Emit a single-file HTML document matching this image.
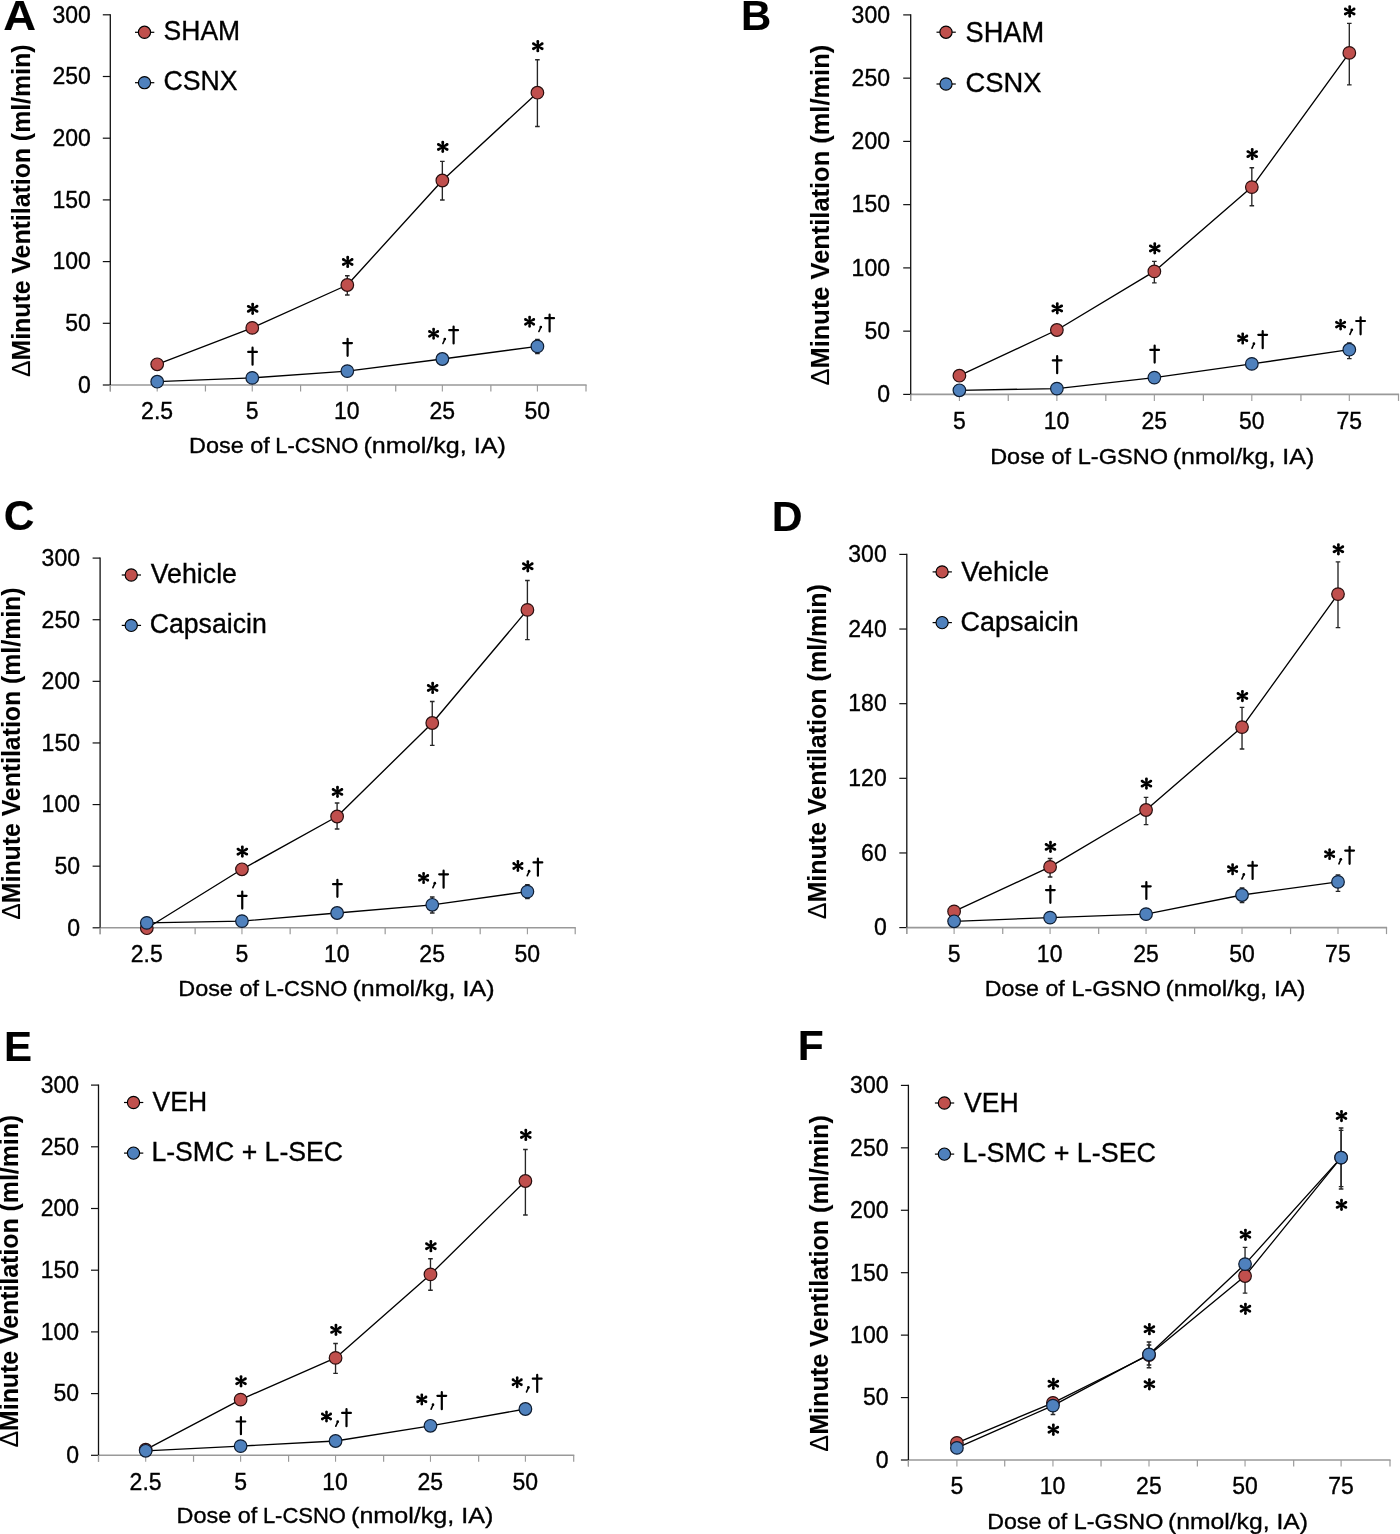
<!DOCTYPE html>
<html><head><meta charset="utf-8"><title>Figure</title>
<style>html,body{margin:0;padding:0;background:#fff;overflow:hidden;width:1400px;height:1534px;}svg{display:block;will-change:transform;}text{stroke:#000;stroke-width:0.35px;}text.b{stroke-width:0.1px;}</style>
</head><body>
<svg width="1400" height="1534" viewBox="0 0 1400 1534">
<defs><filter id="soft" x="-50%" y="-50%" width="200%" height="200%"><feGaussianBlur stdDeviation="0.45"/></filter></defs>
<rect width="1400" height="1534" fill="#fff"/>
<text x="3.17" y="29.70" font-family="'Liberation Sans', sans-serif" font-weight="bold" class="b" font-size="42.15" textLength="32.83" lengthAdjust="spacingAndGlyphs">A</text>
<line x1="102.80" y1="385.00" x2="110.30" y2="385.00" stroke="#111" stroke-width="1.2"/>
<text x="78.10" y="392.80" font-family="'Liberation Sans', sans-serif" font-size="23.60" textLength="12.80" lengthAdjust="spacingAndGlyphs">0</text>
<line x1="102.80" y1="323.30" x2="110.30" y2="323.30" stroke="#111" stroke-width="1.2"/>
<text x="65.30" y="331.10" font-family="'Liberation Sans', sans-serif" font-size="23.60" textLength="25.59" lengthAdjust="spacingAndGlyphs">50</text>
<line x1="102.80" y1="261.60" x2="110.30" y2="261.60" stroke="#111" stroke-width="1.2"/>
<text x="52.51" y="269.40" font-family="'Liberation Sans', sans-serif" font-size="23.60" textLength="38.39" lengthAdjust="spacingAndGlyphs">100</text>
<line x1="102.80" y1="199.90" x2="110.30" y2="199.90" stroke="#111" stroke-width="1.2"/>
<text x="52.51" y="207.70" font-family="'Liberation Sans', sans-serif" font-size="23.60" textLength="38.39" lengthAdjust="spacingAndGlyphs">150</text>
<line x1="102.80" y1="138.20" x2="110.30" y2="138.20" stroke="#111" stroke-width="1.2"/>
<text x="52.51" y="146.00" font-family="'Liberation Sans', sans-serif" font-size="23.60" textLength="38.39" lengthAdjust="spacingAndGlyphs">200</text>
<line x1="102.80" y1="76.50" x2="110.30" y2="76.50" stroke="#111" stroke-width="1.2"/>
<text x="52.51" y="84.30" font-family="'Liberation Sans', sans-serif" font-size="23.60" textLength="38.39" lengthAdjust="spacingAndGlyphs">250</text>
<line x1="102.80" y1="14.80" x2="110.30" y2="14.80" stroke="#111" stroke-width="1.2"/>
<text x="52.51" y="22.60" font-family="'Liberation Sans', sans-serif" font-size="23.60" textLength="38.39" lengthAdjust="spacingAndGlyphs">300</text>
<line x1="110.30" y1="385.00" x2="586.60" y2="385.00" stroke="#999999" stroke-width="1.6"/>
<line x1="110.30" y1="385.00" x2="110.30" y2="391.50" stroke="#999999" stroke-width="1.2"/>
<line x1="205.44" y1="385.00" x2="205.44" y2="391.50" stroke="#999999" stroke-width="1.2"/>
<line x1="300.58" y1="385.00" x2="300.58" y2="391.50" stroke="#999999" stroke-width="1.2"/>
<line x1="395.72" y1="385.00" x2="395.72" y2="391.50" stroke="#999999" stroke-width="1.2"/>
<line x1="490.86" y1="385.00" x2="490.86" y2="391.50" stroke="#999999" stroke-width="1.2"/>
<line x1="586.00" y1="385.00" x2="586.00" y2="391.50" stroke="#999999" stroke-width="1.2"/>
<line x1="157.20" y1="385.00" x2="157.20" y2="391.50" stroke="#9a9a9a" stroke-width="1.1"/>
<line x1="252.25" y1="385.00" x2="252.25" y2="391.50" stroke="#9a9a9a" stroke-width="1.1"/>
<line x1="347.30" y1="385.00" x2="347.30" y2="391.50" stroke="#9a9a9a" stroke-width="1.1"/>
<line x1="442.35" y1="385.00" x2="442.35" y2="391.50" stroke="#9a9a9a" stroke-width="1.1"/>
<line x1="537.40" y1="385.00" x2="537.40" y2="391.50" stroke="#9a9a9a" stroke-width="1.1"/>
<line x1="110.30" y1="14.20" x2="110.30" y2="385.00" stroke="#111" stroke-width="1.3"/>
<line x1="110.30" y1="385.00" x2="110.30" y2="391.50" stroke="#999999" stroke-width="1.2"/>
<text x="141.11" y="419.40" font-family="'Liberation Sans', sans-serif" font-size="23.60" textLength="31.99" lengthAdjust="spacingAndGlyphs">2.5</text>
<text x="245.87" y="419.40" font-family="'Liberation Sans', sans-serif" font-size="23.60" textLength="12.80" lengthAdjust="spacingAndGlyphs">5</text>
<text x="334.08" y="419.40" font-family="'Liberation Sans', sans-serif" font-size="23.60" textLength="25.59" lengthAdjust="spacingAndGlyphs">10</text>
<text x="429.46" y="419.40" font-family="'Liberation Sans', sans-serif" font-size="23.60" textLength="25.59" lengthAdjust="spacingAndGlyphs">25</text>
<text x="524.59" y="419.40" font-family="'Liberation Sans', sans-serif" font-size="23.60" textLength="25.59" lengthAdjust="spacingAndGlyphs">50</text>
<text x="188.98" y="452.80" font-family="'Liberation Sans', sans-serif" font-size="22.67" textLength="80.78" lengthAdjust="spacingAndGlyphs">Dose of</text>
<text x="275.29" y="452.80" font-family="'Liberation Sans', sans-serif" font-size="22.67" textLength="83.06" lengthAdjust="spacingAndGlyphs">L-CSNO</text>
<text x="363.44" y="452.80" font-family="'Liberation Sans', sans-serif" font-size="22.67" textLength="142.31" lengthAdjust="spacingAndGlyphs">(nmol/kg, IA)</text>
<text class="b" transform="translate(30.30,376.30) rotate(-90)" x="-0.74" y="0" font-family="'Liberation Sans', sans-serif" font-weight="bold" font-size="26.16" textLength="332.47" lengthAdjust="spacingAndGlyphs"><tspan font-weight="normal">&#916;</tspan>Minute Ventilation (ml/min)</text>
<line x1="135.00" y1="32.30" x2="154.30" y2="32.30" stroke="#000" stroke-width="1.2"/>
<circle cx="144.50" cy="32.30" r="6.1" fill="#C0504D" stroke="#000" stroke-width="1.15"/>
<text x="163.60" y="40.40" font-family="'Liberation Sans', sans-serif" font-size="27.91" textLength="76.58" lengthAdjust="spacingAndGlyphs">SHAM</text>
<line x1="135.00" y1="82.70" x2="154.30" y2="82.70" stroke="#000" stroke-width="1.2"/>
<circle cx="144.50" cy="82.70" r="6.1" fill="#4F81BD" stroke="#000" stroke-width="1.15"/>
<text x="163.45" y="90.40" font-family="'Liberation Sans', sans-serif" font-size="27.50" textLength="74.11" lengthAdjust="spacingAndGlyphs">CSNX</text>
<path d="M157.20,364.30 L252.25,327.90 L347.30,285.00 L442.35,180.50 L537.40,92.70" stroke="#000" stroke-width="1.35" fill="none" stroke-linejoin="round"/>
<path d="M157.20,381.70 L252.25,377.90 L347.30,371.10 L442.35,359.00 L537.40,346.40" stroke="#000" stroke-width="1.35" fill="none" stroke-linejoin="round"/>
<path d="M347.30,275.70 L347.30,295.00 M345.00,275.70 L349.60,275.70 M345.00,295.00 L349.60,295.00" stroke="#262626" stroke-width="1.35" fill="none"/>
<path d="M442.35,161.40 L442.35,200.00 M440.05,161.40 L444.65,161.40 M440.05,200.00 L444.65,200.00" stroke="#262626" stroke-width="1.35" fill="none"/>
<path d="M537.40,59.70 L537.40,126.50 M535.10,59.70 L539.70,59.70 M535.10,126.50 L539.70,126.50" stroke="#262626" stroke-width="1.35" fill="none"/>
<path d="M537.40,339.40 L537.40,353.50 M535.10,339.40 L539.70,339.40 M535.10,353.50 L539.70,353.50" stroke="#262626" stroke-width="1.35" fill="none"/>
<circle cx="157.20" cy="364.30" r="6.30" fill="#C0504D" stroke="#2a1010" stroke-width="1.2" filter="url(#soft)"/>
<circle cx="252.25" cy="327.90" r="6.30" fill="#C0504D" stroke="#2a1010" stroke-width="1.2" filter="url(#soft)"/>
<circle cx="347.30" cy="285.00" r="6.30" fill="#C0504D" stroke="#2a1010" stroke-width="1.2" filter="url(#soft)"/>
<circle cx="442.35" cy="180.50" r="6.30" fill="#C0504D" stroke="#2a1010" stroke-width="1.2" filter="url(#soft)"/>
<circle cx="537.40" cy="92.70" r="6.30" fill="#C0504D" stroke="#2a1010" stroke-width="1.2" filter="url(#soft)"/>
<circle cx="157.20" cy="381.70" r="6.30" fill="#4F81BD" stroke="#0f1c30" stroke-width="1.2" filter="url(#soft)"/>
<circle cx="252.25" cy="377.90" r="6.30" fill="#4F81BD" stroke="#0f1c30" stroke-width="1.2" filter="url(#soft)"/>
<circle cx="347.30" cy="371.10" r="6.30" fill="#4F81BD" stroke="#0f1c30" stroke-width="1.2" filter="url(#soft)"/>
<circle cx="442.35" cy="359.00" r="6.30" fill="#4F81BD" stroke="#0f1c30" stroke-width="1.2" filter="url(#soft)"/>
<circle cx="537.40" cy="346.40" r="6.30" fill="#4F81BD" stroke="#0f1c30" stroke-width="1.2" filter="url(#soft)"/>
<path d="M253.50,308.85 L254.10,304.15 L251.20,304.15 L251.80,308.85 Z M251.20,304.15 a1.45,1.45 0 1,0 2.90,0 a1.45,1.45 0 1,0 -2.90,0 Z M251.80,308.85 L251.20,313.55 L254.10,313.55 L253.50,308.85 Z M251.20,313.55 a1.45,1.45 0 1,0 2.90,0 a1.45,1.45 0 1,0 -2.90,0 Z M253.08,309.59 L257.75,307.58 L256.30,305.07 L252.22,308.11 Z M255.57,306.33 a1.45,1.45 0 1,0 2.90,0 a1.45,1.45 0 1,0 -2.90,0 Z M253.08,308.11 L249.00,305.07 L247.55,307.58 L252.22,309.59 Z M246.83,306.33 a1.45,1.45 0 1,0 2.90,0 a1.45,1.45 0 1,0 -2.90,0 Z M252.22,308.11 L247.55,310.12 L249.00,312.63 L253.08,309.59 Z M246.83,311.38 a1.45,1.45 0 1,0 2.90,0 a1.45,1.45 0 1,0 -2.90,0 Z M252.22,309.59 L256.30,312.63 L257.75,310.12 L253.08,308.11 Z M255.57,311.38 a1.45,1.45 0 1,0 2.90,0 a1.45,1.45 0 1,0 -2.90,0 Z " fill="#000"/>
<path d="M348.55,261.95 L349.15,257.25 L346.25,257.25 L346.85,261.95 Z M346.25,257.25 a1.45,1.45 0 1,0 2.90,0 a1.45,1.45 0 1,0 -2.90,0 Z M346.85,261.95 L346.25,266.65 L349.15,266.65 L348.55,261.95 Z M346.25,266.65 a1.45,1.45 0 1,0 2.90,0 a1.45,1.45 0 1,0 -2.90,0 Z M348.12,262.69 L352.80,260.68 L351.35,258.17 L347.27,261.21 Z M350.62,259.43 a1.45,1.45 0 1,0 2.90,0 a1.45,1.45 0 1,0 -2.90,0 Z M348.12,261.21 L344.05,258.17 L342.60,260.68 L347.27,262.69 Z M341.88,259.43 a1.45,1.45 0 1,0 2.90,0 a1.45,1.45 0 1,0 -2.90,0 Z M347.27,261.21 L342.60,263.22 L344.05,265.73 L348.12,262.69 Z M341.88,264.47 a1.45,1.45 0 1,0 2.90,0 a1.45,1.45 0 1,0 -2.90,0 Z M347.27,262.69 L351.35,265.73 L352.80,263.22 L348.12,261.21 Z M350.62,264.47 a1.45,1.45 0 1,0 2.90,0 a1.45,1.45 0 1,0 -2.90,0 Z " fill="#000"/>
<path d="M443.60,146.90 L444.20,142.20 L441.30,142.20 L441.90,146.90 Z M441.30,142.20 a1.45,1.45 0 1,0 2.90,0 a1.45,1.45 0 1,0 -2.90,0 Z M441.90,146.90 L441.30,151.60 L444.20,151.60 L443.60,146.90 Z M441.30,151.60 a1.45,1.45 0 1,0 2.90,0 a1.45,1.45 0 1,0 -2.90,0 Z M443.17,147.64 L447.85,145.63 L446.40,143.12 L442.32,146.16 Z M445.67,144.38 a1.45,1.45 0 1,0 2.90,0 a1.45,1.45 0 1,0 -2.90,0 Z M443.17,146.16 L439.10,143.12 L437.65,145.63 L442.32,147.64 Z M436.93,144.38 a1.45,1.45 0 1,0 2.90,0 a1.45,1.45 0 1,0 -2.90,0 Z M442.32,146.16 L437.65,148.17 L439.10,150.68 L443.17,147.64 Z M436.93,149.43 a1.45,1.45 0 1,0 2.90,0 a1.45,1.45 0 1,0 -2.90,0 Z M442.32,147.64 L446.40,150.68 L447.85,148.17 L443.17,146.16 Z M445.67,149.43 a1.45,1.45 0 1,0 2.90,0 a1.45,1.45 0 1,0 -2.90,0 Z " fill="#000"/>
<path d="M538.65,46.20 L539.25,41.50 L536.35,41.50 L536.95,46.20 Z M536.35,41.50 a1.45,1.45 0 1,0 2.90,0 a1.45,1.45 0 1,0 -2.90,0 Z M536.95,46.20 L536.35,50.90 L539.25,50.90 L538.65,46.20 Z M536.35,50.90 a1.45,1.45 0 1,0 2.90,0 a1.45,1.45 0 1,0 -2.90,0 Z M538.22,46.94 L542.90,44.93 L541.45,42.42 L537.38,45.46 Z M540.72,43.67 a1.45,1.45 0 1,0 2.90,0 a1.45,1.45 0 1,0 -2.90,0 Z M538.22,45.46 L534.15,42.42 L532.70,44.93 L537.38,46.94 Z M531.98,43.67 a1.45,1.45 0 1,0 2.90,0 a1.45,1.45 0 1,0 -2.90,0 Z M537.38,45.46 L532.70,47.47 L534.15,49.98 L538.22,46.94 Z M531.98,48.72 a1.45,1.45 0 1,0 2.90,0 a1.45,1.45 0 1,0 -2.90,0 Z M537.38,46.94 L541.45,49.98 L542.90,47.47 L538.22,45.46 Z M540.72,48.72 a1.45,1.45 0 1,0 2.90,0 a1.45,1.45 0 1,0 -2.90,0 Z " fill="#000"/>
<path d="M252.55,347.65 L252.55,364.65 M248.20,351.95 L256.90,351.95" stroke="#000" stroke-width="2.20" stroke-linecap="round" fill="none"/>
<path d="M347.60,338.80 L347.60,355.80 M343.25,343.10 L351.95,343.10" stroke="#000" stroke-width="2.20" stroke-linecap="round" fill="none"/>
<path d="M434.41,333.80 L434.98,329.33 L432.22,329.33 L432.79,333.80 Z M432.22,329.33 a1.38,1.38 0 1,0 2.75,0 a1.38,1.38 0 1,0 -2.75,0 Z M432.79,333.80 L432.22,338.26 L434.98,338.26 L434.41,333.80 Z M432.22,338.26 a1.38,1.38 0 1,0 2.75,0 a1.38,1.38 0 1,0 -2.75,0 Z M434.00,334.50 L438.44,332.59 L437.07,330.21 L433.20,333.10 Z M436.38,331.40 a1.38,1.38 0 1,0 2.75,0 a1.38,1.38 0 1,0 -2.75,0 Z M434.00,333.10 L430.13,330.21 L428.76,332.59 L433.20,334.50 Z M428.07,331.40 a1.38,1.38 0 1,0 2.75,0 a1.38,1.38 0 1,0 -2.75,0 Z M433.20,333.10 L428.76,335.01 L430.13,337.39 L434.00,334.50 Z M428.07,336.20 a1.38,1.38 0 1,0 2.75,0 a1.38,1.38 0 1,0 -2.75,0 Z M433.20,334.50 L437.07,337.39 L438.44,335.01 L434.00,333.10 Z M436.38,336.20 a1.38,1.38 0 1,0 2.75,0 a1.38,1.38 0 1,0 -2.75,0 Z " fill="#000"/>
<circle cx="444.80" cy="339.00" r="1.35" fill="#000"/>
<path d="M444.90,339.10 L442.90,343.50" stroke="#000" stroke-width="1.60" stroke-linecap="round" fill="none"/>
<path d="M453.60,326.50 L453.60,343.50 M449.20,330.20 L458.00,330.20" stroke="#000" stroke-width="2.20" stroke-linecap="round" fill="none"/>
<path d="M530.41,321.80 L530.98,317.33 L528.22,317.33 L528.79,321.80 Z M528.22,317.33 a1.38,1.38 0 1,0 2.75,0 a1.38,1.38 0 1,0 -2.75,0 Z M528.79,321.80 L528.22,326.26 L530.98,326.26 L530.41,321.80 Z M528.22,326.26 a1.38,1.38 0 1,0 2.75,0 a1.38,1.38 0 1,0 -2.75,0 Z M530.00,322.50 L534.44,320.59 L533.07,318.21 L529.20,321.10 Z M532.38,319.40 a1.38,1.38 0 1,0 2.75,0 a1.38,1.38 0 1,0 -2.75,0 Z M530.00,321.10 L526.13,318.21 L524.76,320.59 L529.20,322.50 Z M524.07,319.40 a1.38,1.38 0 1,0 2.75,0 a1.38,1.38 0 1,0 -2.75,0 Z M529.20,321.10 L524.76,323.01 L526.13,325.39 L530.00,322.50 Z M524.07,324.20 a1.38,1.38 0 1,0 2.75,0 a1.38,1.38 0 1,0 -2.75,0 Z M529.20,322.50 L533.07,325.39 L534.44,323.01 L530.00,321.10 Z M532.38,324.20 a1.38,1.38 0 1,0 2.75,0 a1.38,1.38 0 1,0 -2.75,0 Z " fill="#000"/>
<circle cx="540.80" cy="327.00" r="1.35" fill="#000"/>
<path d="M540.90,327.10 L538.90,331.50" stroke="#000" stroke-width="1.60" stroke-linecap="round" fill="none"/>
<path d="M549.60,314.50 L549.60,331.50 M545.20,318.20 L554.00,318.20" stroke="#000" stroke-width="2.20" stroke-linecap="round" fill="none"/>
<text x="741.00" y="29.80" font-family="'Liberation Sans', sans-serif" font-weight="bold" class="b" font-size="42.15" textLength="30.20" lengthAdjust="spacingAndGlyphs">B</text>
<line x1="903.20" y1="394.40" x2="910.70" y2="394.40" stroke="#111" stroke-width="1.2"/>
<text x="877.20" y="402.20" font-family="'Liberation Sans', sans-serif" font-size="23.60" textLength="12.80" lengthAdjust="spacingAndGlyphs">0</text>
<line x1="903.20" y1="331.15" x2="910.70" y2="331.15" stroke="#111" stroke-width="1.2"/>
<text x="864.40" y="338.95" font-family="'Liberation Sans', sans-serif" font-size="23.60" textLength="25.59" lengthAdjust="spacingAndGlyphs">50</text>
<line x1="903.20" y1="267.90" x2="910.70" y2="267.90" stroke="#111" stroke-width="1.2"/>
<text x="851.61" y="275.70" font-family="'Liberation Sans', sans-serif" font-size="23.60" textLength="38.39" lengthAdjust="spacingAndGlyphs">100</text>
<line x1="903.20" y1="204.65" x2="910.70" y2="204.65" stroke="#111" stroke-width="1.2"/>
<text x="851.61" y="212.45" font-family="'Liberation Sans', sans-serif" font-size="23.60" textLength="38.39" lengthAdjust="spacingAndGlyphs">150</text>
<line x1="903.20" y1="141.40" x2="910.70" y2="141.40" stroke="#111" stroke-width="1.2"/>
<text x="851.61" y="149.20" font-family="'Liberation Sans', sans-serif" font-size="23.60" textLength="38.39" lengthAdjust="spacingAndGlyphs">200</text>
<line x1="903.20" y1="78.15" x2="910.70" y2="78.15" stroke="#111" stroke-width="1.2"/>
<text x="851.61" y="85.95" font-family="'Liberation Sans', sans-serif" font-size="23.60" textLength="38.39" lengthAdjust="spacingAndGlyphs">250</text>
<line x1="903.20" y1="14.90" x2="910.70" y2="14.90" stroke="#111" stroke-width="1.2"/>
<text x="851.61" y="22.70" font-family="'Liberation Sans', sans-serif" font-size="23.60" textLength="38.39" lengthAdjust="spacingAndGlyphs">300</text>
<line x1="910.70" y1="394.40" x2="1399.10" y2="394.40" stroke="#999999" stroke-width="1.6"/>
<line x1="910.70" y1="394.40" x2="910.70" y2="400.90" stroke="#999999" stroke-width="1.2"/>
<line x1="1008.26" y1="394.40" x2="1008.26" y2="400.90" stroke="#999999" stroke-width="1.2"/>
<line x1="1105.82" y1="394.40" x2="1105.82" y2="400.90" stroke="#999999" stroke-width="1.2"/>
<line x1="1203.38" y1="394.40" x2="1203.38" y2="400.90" stroke="#999999" stroke-width="1.2"/>
<line x1="1300.94" y1="394.40" x2="1300.94" y2="400.90" stroke="#999999" stroke-width="1.2"/>
<line x1="1398.50" y1="394.40" x2="1398.50" y2="400.90" stroke="#999999" stroke-width="1.2"/>
<line x1="959.40" y1="394.40" x2="959.40" y2="400.90" stroke="#9a9a9a" stroke-width="1.1"/>
<line x1="1056.88" y1="394.40" x2="1056.88" y2="400.90" stroke="#9a9a9a" stroke-width="1.1"/>
<line x1="1154.35" y1="394.40" x2="1154.35" y2="400.90" stroke="#9a9a9a" stroke-width="1.1"/>
<line x1="1251.82" y1="394.40" x2="1251.82" y2="400.90" stroke="#9a9a9a" stroke-width="1.1"/>
<line x1="1349.30" y1="394.40" x2="1349.30" y2="400.90" stroke="#9a9a9a" stroke-width="1.1"/>
<line x1="910.70" y1="14.30" x2="910.70" y2="394.40" stroke="#111" stroke-width="1.3"/>
<line x1="910.70" y1="394.40" x2="910.70" y2="400.90" stroke="#999999" stroke-width="1.2"/>
<text x="953.02" y="428.80" font-family="'Liberation Sans', sans-serif" font-size="23.60" textLength="12.80" lengthAdjust="spacingAndGlyphs">5</text>
<text x="1043.65" y="428.80" font-family="'Liberation Sans', sans-serif" font-size="23.60" textLength="25.59" lengthAdjust="spacingAndGlyphs">10</text>
<text x="1141.46" y="428.80" font-family="'Liberation Sans', sans-serif" font-size="23.60" textLength="25.59" lengthAdjust="spacingAndGlyphs">25</text>
<text x="1239.02" y="428.80" font-family="'Liberation Sans', sans-serif" font-size="23.60" textLength="25.59" lengthAdjust="spacingAndGlyphs">50</text>
<text x="1336.40" y="428.80" font-family="'Liberation Sans', sans-serif" font-size="23.60" textLength="25.59" lengthAdjust="spacingAndGlyphs">75</text>
<text x="990.18" y="464.00" font-family="'Liberation Sans', sans-serif" font-size="22.67" textLength="80.79" lengthAdjust="spacingAndGlyphs">Dose of</text>
<text x="1077.69" y="464.00" font-family="'Liberation Sans', sans-serif" font-size="22.67" textLength="90.43" lengthAdjust="spacingAndGlyphs">L-GSNO</text>
<text x="1172.75" y="464.00" font-family="'Liberation Sans', sans-serif" font-size="22.67" textLength="141.50" lengthAdjust="spacingAndGlyphs">(nmol/kg, IA)</text>
<text class="b" transform="translate(828.50,384.70) rotate(-90)" x="-0.75" y="0" font-family="'Liberation Sans', sans-serif" font-weight="bold" font-size="26.16" textLength="340.62" lengthAdjust="spacingAndGlyphs"><tspan font-weight="normal">&#916;</tspan>Minute Ventilation (ml/min)</text>
<line x1="936.50" y1="32.20" x2="955.80" y2="32.20" stroke="#000" stroke-width="1.2"/>
<circle cx="946.00" cy="32.20" r="6.1" fill="#C0504D" stroke="#000" stroke-width="1.15"/>
<text x="965.56" y="41.80" font-family="'Liberation Sans', sans-serif" font-size="28.78" textLength="78.67" lengthAdjust="spacingAndGlyphs">SHAM</text>
<line x1="936.50" y1="84.00" x2="955.80" y2="84.00" stroke="#000" stroke-width="1.2"/>
<circle cx="946.00" cy="84.00" r="6.1" fill="#4F81BD" stroke="#000" stroke-width="1.15"/>
<text x="965.41" y="92.30" font-family="'Liberation Sans', sans-serif" font-size="28.36" textLength="75.96" lengthAdjust="spacingAndGlyphs">CSNX</text>
<path d="M959.40,375.70 L1056.88,330.00 L1154.35,271.40 L1251.82,187.10 L1349.30,52.90" stroke="#000" stroke-width="1.35" fill="none" stroke-linejoin="round"/>
<path d="M959.40,390.30 L1056.88,388.60 L1154.35,377.60 L1251.82,363.90 L1349.30,349.70" stroke="#000" stroke-width="1.35" fill="none" stroke-linejoin="round"/>
<path d="M1154.35,261.40 L1154.35,282.90 M1152.05,261.40 L1156.65,261.40 M1152.05,282.90 L1156.65,282.90" stroke="#262626" stroke-width="1.35" fill="none"/>
<path d="M1251.82,167.70 L1251.82,205.70 M1249.52,167.70 L1254.12,167.70 M1249.52,205.70 L1254.12,205.70" stroke="#262626" stroke-width="1.35" fill="none"/>
<path d="M1349.30,23.40 L1349.30,84.90 M1347.00,23.40 L1351.60,23.40 M1347.00,84.90 L1351.60,84.90" stroke="#262626" stroke-width="1.35" fill="none"/>
<path d="M1349.30,342.90 L1349.30,358.60 M1347.00,342.90 L1351.60,342.90 M1347.00,358.60 L1351.60,358.60" stroke="#262626" stroke-width="1.35" fill="none"/>
<circle cx="959.40" cy="375.70" r="6.30" fill="#C0504D" stroke="#2a1010" stroke-width="1.2" filter="url(#soft)"/>
<circle cx="1056.88" cy="330.00" r="6.30" fill="#C0504D" stroke="#2a1010" stroke-width="1.2" filter="url(#soft)"/>
<circle cx="1154.35" cy="271.40" r="6.30" fill="#C0504D" stroke="#2a1010" stroke-width="1.2" filter="url(#soft)"/>
<circle cx="1251.82" cy="187.10" r="6.30" fill="#C0504D" stroke="#2a1010" stroke-width="1.2" filter="url(#soft)"/>
<circle cx="1349.30" cy="52.90" r="6.30" fill="#C0504D" stroke="#2a1010" stroke-width="1.2" filter="url(#soft)"/>
<circle cx="959.40" cy="390.30" r="6.30" fill="#4F81BD" stroke="#0f1c30" stroke-width="1.2" filter="url(#soft)"/>
<circle cx="1056.88" cy="388.60" r="6.30" fill="#4F81BD" stroke="#0f1c30" stroke-width="1.2" filter="url(#soft)"/>
<circle cx="1154.35" cy="377.60" r="6.30" fill="#4F81BD" stroke="#0f1c30" stroke-width="1.2" filter="url(#soft)"/>
<circle cx="1251.82" cy="363.90" r="6.30" fill="#4F81BD" stroke="#0f1c30" stroke-width="1.2" filter="url(#soft)"/>
<circle cx="1349.30" cy="349.70" r="6.30" fill="#4F81BD" stroke="#0f1c30" stroke-width="1.2" filter="url(#soft)"/>
<path d="M1058.12,308.40 L1058.73,303.70 L1055.83,303.70 L1056.43,308.40 Z M1055.83,303.70 a1.45,1.45 0 1,0 2.90,0 a1.45,1.45 0 1,0 -2.90,0 Z M1056.43,308.40 L1055.83,313.10 L1058.73,313.10 L1058.12,308.40 Z M1055.83,313.10 a1.45,1.45 0 1,0 2.90,0 a1.45,1.45 0 1,0 -2.90,0 Z M1057.70,309.14 L1062.37,307.13 L1060.92,304.62 L1056.85,307.66 Z M1060.20,305.88 a1.45,1.45 0 1,0 2.90,0 a1.45,1.45 0 1,0 -2.90,0 Z M1057.70,307.66 L1053.63,304.62 L1052.18,307.13 L1056.85,309.14 Z M1051.45,305.88 a1.45,1.45 0 1,0 2.90,0 a1.45,1.45 0 1,0 -2.90,0 Z M1056.85,307.66 L1052.18,309.67 L1053.63,312.18 L1057.70,309.14 Z M1051.45,310.93 a1.45,1.45 0 1,0 2.90,0 a1.45,1.45 0 1,0 -2.90,0 Z M1056.85,309.14 L1060.92,312.18 L1062.37,309.67 L1057.70,307.66 Z M1060.20,310.93 a1.45,1.45 0 1,0 2.90,0 a1.45,1.45 0 1,0 -2.90,0 Z " fill="#000"/>
<path d="M1155.60,248.40 L1156.20,243.70 L1153.30,243.70 L1153.90,248.40 Z M1153.30,243.70 a1.45,1.45 0 1,0 2.90,0 a1.45,1.45 0 1,0 -2.90,0 Z M1153.90,248.40 L1153.30,253.10 L1156.20,253.10 L1155.60,248.40 Z M1153.30,253.10 a1.45,1.45 0 1,0 2.90,0 a1.45,1.45 0 1,0 -2.90,0 Z M1155.17,249.14 L1159.85,247.13 L1158.40,244.62 L1154.33,247.66 Z M1157.67,245.88 a1.45,1.45 0 1,0 2.90,0 a1.45,1.45 0 1,0 -2.90,0 Z M1155.17,247.66 L1151.10,244.62 L1149.65,247.13 L1154.33,249.14 Z M1148.93,245.88 a1.45,1.45 0 1,0 2.90,0 a1.45,1.45 0 1,0 -2.90,0 Z M1154.33,247.66 L1149.65,249.67 L1151.10,252.18 L1155.17,249.14 Z M1148.93,250.93 a1.45,1.45 0 1,0 2.90,0 a1.45,1.45 0 1,0 -2.90,0 Z M1154.33,249.14 L1158.40,252.18 L1159.85,249.67 L1155.17,247.66 Z M1157.67,250.93 a1.45,1.45 0 1,0 2.90,0 a1.45,1.45 0 1,0 -2.90,0 Z " fill="#000"/>
<path d="M1253.07,154.10 L1253.67,149.40 L1250.77,149.40 L1251.38,154.10 Z M1250.77,149.40 a1.45,1.45 0 1,0 2.90,0 a1.45,1.45 0 1,0 -2.90,0 Z M1251.38,154.10 L1250.77,158.80 L1253.67,158.80 L1253.07,154.10 Z M1250.77,158.80 a1.45,1.45 0 1,0 2.90,0 a1.45,1.45 0 1,0 -2.90,0 Z M1252.65,154.84 L1257.32,152.83 L1255.87,150.32 L1251.80,153.36 Z M1255.15,151.58 a1.45,1.45 0 1,0 2.90,0 a1.45,1.45 0 1,0 -2.90,0 Z M1252.65,153.36 L1248.58,150.32 L1247.13,152.83 L1251.80,154.84 Z M1246.40,151.58 a1.45,1.45 0 1,0 2.90,0 a1.45,1.45 0 1,0 -2.90,0 Z M1251.80,153.36 L1247.13,155.37 L1248.58,157.88 L1252.65,154.84 Z M1246.40,156.63 a1.45,1.45 0 1,0 2.90,0 a1.45,1.45 0 1,0 -2.90,0 Z M1251.80,154.84 L1255.87,157.88 L1257.32,155.37 L1252.65,153.36 Z M1255.15,156.63 a1.45,1.45 0 1,0 2.90,0 a1.45,1.45 0 1,0 -2.90,0 Z " fill="#000"/>
<path d="M1350.55,11.50 L1351.15,6.80 L1348.25,6.80 L1348.85,11.50 Z M1348.25,6.80 a1.45,1.45 0 1,0 2.90,0 a1.45,1.45 0 1,0 -2.90,0 Z M1348.85,11.50 L1348.25,16.20 L1351.15,16.20 L1350.55,11.50 Z M1348.25,16.20 a1.45,1.45 0 1,0 2.90,0 a1.45,1.45 0 1,0 -2.90,0 Z M1350.12,12.24 L1354.80,10.23 L1353.35,7.72 L1349.28,10.76 Z M1352.62,8.98 a1.45,1.45 0 1,0 2.90,0 a1.45,1.45 0 1,0 -2.90,0 Z M1350.12,10.76 L1346.05,7.72 L1344.60,10.23 L1349.28,12.24 Z M1343.88,8.98 a1.45,1.45 0 1,0 2.90,0 a1.45,1.45 0 1,0 -2.90,0 Z M1349.28,10.76 L1344.60,12.77 L1346.05,15.28 L1350.12,12.24 Z M1343.88,14.03 a1.45,1.45 0 1,0 2.90,0 a1.45,1.45 0 1,0 -2.90,0 Z M1349.28,12.24 L1353.35,15.28 L1354.80,12.77 L1350.12,10.76 Z M1352.62,14.03 a1.45,1.45 0 1,0 2.90,0 a1.45,1.45 0 1,0 -2.90,0 Z " fill="#000"/>
<path d="M1057.17,356.15 L1057.17,373.15 M1052.82,360.45 L1061.53,360.45" stroke="#000" stroke-width="2.20" stroke-linecap="round" fill="none"/>
<path d="M1154.65,345.60 L1154.65,362.60 M1150.30,349.90 L1159.00,349.90" stroke="#000" stroke-width="2.20" stroke-linecap="round" fill="none"/>
<path d="M1243.51,338.45 L1244.08,333.98 L1241.32,333.98 L1241.89,338.45 Z M1241.32,333.98 a1.38,1.38 0 1,0 2.75,0 a1.38,1.38 0 1,0 -2.75,0 Z M1241.89,338.45 L1241.32,342.91 L1244.08,342.91 L1243.51,338.45 Z M1241.32,342.91 a1.38,1.38 0 1,0 2.75,0 a1.38,1.38 0 1,0 -2.75,0 Z M1243.10,339.15 L1247.54,337.24 L1246.17,334.86 L1242.30,337.75 Z M1245.48,336.05 a1.38,1.38 0 1,0 2.75,0 a1.38,1.38 0 1,0 -2.75,0 Z M1243.10,337.75 L1239.23,334.86 L1237.86,337.24 L1242.30,339.15 Z M1237.17,336.05 a1.38,1.38 0 1,0 2.75,0 a1.38,1.38 0 1,0 -2.75,0 Z M1242.30,337.75 L1237.86,339.66 L1239.23,342.04 L1243.10,339.15 Z M1237.17,340.85 a1.38,1.38 0 1,0 2.75,0 a1.38,1.38 0 1,0 -2.75,0 Z M1242.30,339.15 L1246.17,342.04 L1247.54,339.66 L1243.10,337.75 Z M1245.48,340.85 a1.38,1.38 0 1,0 2.75,0 a1.38,1.38 0 1,0 -2.75,0 Z " fill="#000"/>
<circle cx="1253.90" cy="343.65" r="1.35" fill="#000"/>
<path d="M1254.00,343.75 L1252.00,348.15" stroke="#000" stroke-width="1.60" stroke-linecap="round" fill="none"/>
<path d="M1262.70,331.15 L1262.70,348.15 M1258.30,334.85 L1267.10,334.85" stroke="#000" stroke-width="2.20" stroke-linecap="round" fill="none"/>
<path d="M1341.41,324.60 L1341.98,320.13 L1339.22,320.13 L1339.79,324.60 Z M1339.22,320.13 a1.38,1.38 0 1,0 2.75,0 a1.38,1.38 0 1,0 -2.75,0 Z M1339.79,324.60 L1339.22,329.06 L1341.98,329.06 L1341.41,324.60 Z M1339.22,329.06 a1.38,1.38 0 1,0 2.75,0 a1.38,1.38 0 1,0 -2.75,0 Z M1341.00,325.30 L1345.44,323.39 L1344.07,321.01 L1340.20,323.90 Z M1343.38,322.20 a1.38,1.38 0 1,0 2.75,0 a1.38,1.38 0 1,0 -2.75,0 Z M1341.00,323.90 L1337.13,321.01 L1335.76,323.39 L1340.20,325.30 Z M1335.07,322.20 a1.38,1.38 0 1,0 2.75,0 a1.38,1.38 0 1,0 -2.75,0 Z M1340.20,323.90 L1335.76,325.81 L1337.13,328.19 L1341.00,325.30 Z M1335.07,327.00 a1.38,1.38 0 1,0 2.75,0 a1.38,1.38 0 1,0 -2.75,0 Z M1340.20,325.30 L1344.07,328.19 L1345.44,325.81 L1341.00,323.90 Z M1343.38,327.00 a1.38,1.38 0 1,0 2.75,0 a1.38,1.38 0 1,0 -2.75,0 Z " fill="#000"/>
<circle cx="1351.80" cy="329.80" r="1.35" fill="#000"/>
<path d="M1351.90,329.90 L1349.90,334.30" stroke="#000" stroke-width="1.60" stroke-linecap="round" fill="none"/>
<path d="M1360.60,317.30 L1360.60,334.30 M1356.20,321.00 L1365.00,321.00" stroke="#000" stroke-width="2.20" stroke-linecap="round" fill="none"/>
<text x="3.66" y="530.40" font-family="'Liberation Sans', sans-serif" font-weight="bold" class="b" font-size="42.15" textLength="30.71" lengthAdjust="spacingAndGlyphs">C</text>
<line x1="92.60" y1="927.80" x2="100.10" y2="927.80" stroke="#111" stroke-width="1.2"/>
<text x="67.20" y="935.60" font-family="'Liberation Sans', sans-serif" font-size="23.60" textLength="12.80" lengthAdjust="spacingAndGlyphs">0</text>
<line x1="92.60" y1="866.18" x2="100.10" y2="866.18" stroke="#111" stroke-width="1.2"/>
<text x="54.40" y="873.98" font-family="'Liberation Sans', sans-serif" font-size="23.60" textLength="25.59" lengthAdjust="spacingAndGlyphs">50</text>
<line x1="92.60" y1="804.57" x2="100.10" y2="804.57" stroke="#111" stroke-width="1.2"/>
<text x="41.61" y="812.37" font-family="'Liberation Sans', sans-serif" font-size="23.60" textLength="38.39" lengthAdjust="spacingAndGlyphs">100</text>
<line x1="92.60" y1="742.95" x2="100.10" y2="742.95" stroke="#111" stroke-width="1.2"/>
<text x="41.61" y="750.75" font-family="'Liberation Sans', sans-serif" font-size="23.60" textLength="38.39" lengthAdjust="spacingAndGlyphs">150</text>
<line x1="92.60" y1="681.33" x2="100.10" y2="681.33" stroke="#111" stroke-width="1.2"/>
<text x="41.61" y="689.13" font-family="'Liberation Sans', sans-serif" font-size="23.60" textLength="38.39" lengthAdjust="spacingAndGlyphs">200</text>
<line x1="92.60" y1="619.72" x2="100.10" y2="619.72" stroke="#111" stroke-width="1.2"/>
<text x="41.61" y="627.52" font-family="'Liberation Sans', sans-serif" font-size="23.60" textLength="38.39" lengthAdjust="spacingAndGlyphs">250</text>
<line x1="92.60" y1="558.10" x2="100.10" y2="558.10" stroke="#111" stroke-width="1.2"/>
<text x="41.61" y="565.90" font-family="'Liberation Sans', sans-serif" font-size="23.60" textLength="38.39" lengthAdjust="spacingAndGlyphs">300</text>
<line x1="100.10" y1="927.80" x2="575.80" y2="927.80" stroke="#999999" stroke-width="1.6"/>
<line x1="100.10" y1="927.80" x2="100.10" y2="934.30" stroke="#999999" stroke-width="1.2"/>
<line x1="195.12" y1="927.80" x2="195.12" y2="934.30" stroke="#999999" stroke-width="1.2"/>
<line x1="290.14" y1="927.80" x2="290.14" y2="934.30" stroke="#999999" stroke-width="1.2"/>
<line x1="385.16" y1="927.80" x2="385.16" y2="934.30" stroke="#999999" stroke-width="1.2"/>
<line x1="480.18" y1="927.80" x2="480.18" y2="934.30" stroke="#999999" stroke-width="1.2"/>
<line x1="575.20" y1="927.80" x2="575.20" y2="934.30" stroke="#999999" stroke-width="1.2"/>
<line x1="146.80" y1="927.80" x2="146.80" y2="934.30" stroke="#9a9a9a" stroke-width="1.1"/>
<line x1="241.95" y1="927.80" x2="241.95" y2="934.30" stroke="#9a9a9a" stroke-width="1.1"/>
<line x1="337.10" y1="927.80" x2="337.10" y2="934.30" stroke="#9a9a9a" stroke-width="1.1"/>
<line x1="432.25" y1="927.80" x2="432.25" y2="934.30" stroke="#9a9a9a" stroke-width="1.1"/>
<line x1="527.40" y1="927.80" x2="527.40" y2="934.30" stroke="#9a9a9a" stroke-width="1.1"/>
<line x1="100.10" y1="557.50" x2="100.10" y2="927.80" stroke="#111" stroke-width="1.3"/>
<line x1="100.10" y1="927.80" x2="100.10" y2="934.30" stroke="#999999" stroke-width="1.2"/>
<text x="130.71" y="962.20" font-family="'Liberation Sans', sans-serif" font-size="23.60" textLength="31.99" lengthAdjust="spacingAndGlyphs">2.5</text>
<text x="235.57" y="962.20" font-family="'Liberation Sans', sans-serif" font-size="23.60" textLength="12.80" lengthAdjust="spacingAndGlyphs">5</text>
<text x="323.88" y="962.20" font-family="'Liberation Sans', sans-serif" font-size="23.60" textLength="25.59" lengthAdjust="spacingAndGlyphs">10</text>
<text x="419.36" y="962.20" font-family="'Liberation Sans', sans-serif" font-size="23.60" textLength="25.59" lengthAdjust="spacingAndGlyphs">25</text>
<text x="514.59" y="962.20" font-family="'Liberation Sans', sans-serif" font-size="23.60" textLength="25.59" lengthAdjust="spacingAndGlyphs">50</text>
<text x="178.28" y="995.80" font-family="'Liberation Sans', sans-serif" font-size="22.67" textLength="80.65" lengthAdjust="spacingAndGlyphs">Dose of</text>
<text x="264.45" y="995.80" font-family="'Liberation Sans', sans-serif" font-size="22.67" textLength="82.93" lengthAdjust="spacingAndGlyphs">L-CSNO</text>
<text x="352.47" y="995.80" font-family="'Liberation Sans', sans-serif" font-size="22.67" textLength="142.09" lengthAdjust="spacingAndGlyphs">(nmol/kg, IA)</text>
<text class="b" transform="translate(19.80,919.00) rotate(-90)" x="-0.74" y="0" font-family="'Liberation Sans', sans-serif" font-weight="bold" font-size="26.16" textLength="332.27" lengthAdjust="spacingAndGlyphs"><tspan font-weight="normal">&#916;</tspan>Minute Ventilation (ml/min)</text>
<line x1="121.75" y1="575.00" x2="141.05" y2="575.00" stroke="#000" stroke-width="1.2"/>
<circle cx="131.25" cy="575.00" r="6.1" fill="#C0504D" stroke="#000" stroke-width="1.15"/>
<text x="150.78" y="583.30" font-family="'Liberation Sans', sans-serif" font-size="27.21" textLength="86.18" lengthAdjust="spacingAndGlyphs">Vehicle</text>
<line x1="121.75" y1="625.40" x2="141.05" y2="625.40" stroke="#000" stroke-width="1.2"/>
<circle cx="131.25" cy="625.40" r="6.1" fill="#4F81BD" stroke="#000" stroke-width="1.15"/>
<text x="149.65" y="633.10" font-family="'Liberation Sans', sans-serif" font-size="27.21" textLength="117.09" lengthAdjust="spacingAndGlyphs">Capsaicin</text>
<path d="M146.80,928.20 L241.95,869.30 L337.10,816.50 L432.25,723.00 L527.40,609.90" stroke="#000" stroke-width="1.35" fill="none" stroke-linejoin="round"/>
<path d="M146.80,922.90 L241.95,921.10 L337.10,913.00 L432.25,904.80 L527.40,891.60" stroke="#000" stroke-width="1.35" fill="none" stroke-linejoin="round"/>
<path d="M337.10,803.00 L337.10,829.00 M334.80,803.00 L339.40,803.00 M334.80,829.00 L339.40,829.00" stroke="#262626" stroke-width="1.35" fill="none"/>
<path d="M432.25,701.50 L432.25,745.40 M429.95,701.50 L434.55,701.50 M429.95,745.40 L434.55,745.40" stroke="#262626" stroke-width="1.35" fill="none"/>
<path d="M527.40,580.50 L527.40,639.60 M525.10,580.50 L529.70,580.50 M525.10,639.60 L529.70,639.60" stroke="#262626" stroke-width="1.35" fill="none"/>
<path d="M432.25,897.00 L432.25,913.00 M429.95,897.00 L434.55,897.00 M429.95,913.00 L434.55,913.00" stroke="#262626" stroke-width="1.35" fill="none"/>
<path d="M527.40,884.70 L527.40,898.50 M525.10,884.70 L529.70,884.70 M525.10,898.50 L529.70,898.50" stroke="#262626" stroke-width="1.35" fill="none"/>
<circle cx="146.80" cy="928.20" r="6.30" fill="#C0504D" stroke="#2a1010" stroke-width="1.2" filter="url(#soft)"/>
<circle cx="241.95" cy="869.30" r="6.30" fill="#C0504D" stroke="#2a1010" stroke-width="1.2" filter="url(#soft)"/>
<circle cx="337.10" cy="816.50" r="6.30" fill="#C0504D" stroke="#2a1010" stroke-width="1.2" filter="url(#soft)"/>
<circle cx="432.25" cy="723.00" r="6.30" fill="#C0504D" stroke="#2a1010" stroke-width="1.2" filter="url(#soft)"/>
<circle cx="527.40" cy="609.90" r="6.30" fill="#C0504D" stroke="#2a1010" stroke-width="1.2" filter="url(#soft)"/>
<circle cx="146.80" cy="922.90" r="6.30" fill="#4F81BD" stroke="#0f1c30" stroke-width="1.2" filter="url(#soft)"/>
<circle cx="241.95" cy="921.10" r="6.30" fill="#4F81BD" stroke="#0f1c30" stroke-width="1.2" filter="url(#soft)"/>
<circle cx="337.10" cy="913.00" r="6.30" fill="#4F81BD" stroke="#0f1c30" stroke-width="1.2" filter="url(#soft)"/>
<circle cx="432.25" cy="904.80" r="6.30" fill="#4F81BD" stroke="#0f1c30" stroke-width="1.2" filter="url(#soft)"/>
<circle cx="527.40" cy="891.60" r="6.30" fill="#4F81BD" stroke="#0f1c30" stroke-width="1.2" filter="url(#soft)"/>
<path d="M243.20,851.65 L243.80,846.95 L240.90,846.95 L241.50,851.65 Z M240.90,846.95 a1.45,1.45 0 1,0 2.90,0 a1.45,1.45 0 1,0 -2.90,0 Z M241.50,851.65 L240.90,856.35 L243.80,856.35 L243.20,851.65 Z M240.90,856.35 a1.45,1.45 0 1,0 2.90,0 a1.45,1.45 0 1,0 -2.90,0 Z M242.78,852.39 L247.45,850.38 L246.00,847.87 L241.92,850.91 Z M245.27,849.12 a1.45,1.45 0 1,0 2.90,0 a1.45,1.45 0 1,0 -2.90,0 Z M242.78,850.91 L238.70,847.87 L237.25,850.38 L241.92,852.39 Z M236.53,849.12 a1.45,1.45 0 1,0 2.90,0 a1.45,1.45 0 1,0 -2.90,0 Z M241.92,850.91 L237.25,852.92 L238.70,855.43 L242.78,852.39 Z M236.53,854.17 a1.45,1.45 0 1,0 2.90,0 a1.45,1.45 0 1,0 -2.90,0 Z M241.92,852.39 L246.00,855.43 L247.45,852.92 L242.78,850.91 Z M245.27,854.17 a1.45,1.45 0 1,0 2.90,0 a1.45,1.45 0 1,0 -2.90,0 Z " fill="#000"/>
<path d="M338.35,791.90 L338.95,787.20 L336.05,787.20 L336.65,791.90 Z M336.05,787.20 a1.45,1.45 0 1,0 2.90,0 a1.45,1.45 0 1,0 -2.90,0 Z M336.65,791.90 L336.05,796.60 L338.95,796.60 L338.35,791.90 Z M336.05,796.60 a1.45,1.45 0 1,0 2.90,0 a1.45,1.45 0 1,0 -2.90,0 Z M337.93,792.64 L342.60,790.63 L341.15,788.12 L337.07,791.16 Z M340.42,789.38 a1.45,1.45 0 1,0 2.90,0 a1.45,1.45 0 1,0 -2.90,0 Z M337.93,791.16 L333.85,788.12 L332.40,790.63 L337.07,792.64 Z M331.68,789.38 a1.45,1.45 0 1,0 2.90,0 a1.45,1.45 0 1,0 -2.90,0 Z M337.07,791.16 L332.40,793.17 L333.85,795.68 L337.93,792.64 Z M331.68,794.42 a1.45,1.45 0 1,0 2.90,0 a1.45,1.45 0 1,0 -2.90,0 Z M337.07,792.64 L341.15,795.68 L342.60,793.17 L337.93,791.16 Z M340.42,794.42 a1.45,1.45 0 1,0 2.90,0 a1.45,1.45 0 1,0 -2.90,0 Z " fill="#000"/>
<path d="M433.50,687.95 L434.10,683.25 L431.20,683.25 L431.80,687.95 Z M431.20,683.25 a1.45,1.45 0 1,0 2.90,0 a1.45,1.45 0 1,0 -2.90,0 Z M431.80,687.95 L431.20,692.65 L434.10,692.65 L433.50,687.95 Z M431.20,692.65 a1.45,1.45 0 1,0 2.90,0 a1.45,1.45 0 1,0 -2.90,0 Z M433.07,688.69 L437.75,686.68 L436.30,684.17 L432.22,687.21 Z M435.57,685.42 a1.45,1.45 0 1,0 2.90,0 a1.45,1.45 0 1,0 -2.90,0 Z M433.07,687.21 L429.00,684.17 L427.55,686.68 L432.22,688.69 Z M426.83,685.42 a1.45,1.45 0 1,0 2.90,0 a1.45,1.45 0 1,0 -2.90,0 Z M432.22,687.21 L427.55,689.22 L429.00,691.73 L433.07,688.69 Z M426.83,690.47 a1.45,1.45 0 1,0 2.90,0 a1.45,1.45 0 1,0 -2.90,0 Z M432.22,688.69 L436.30,691.73 L437.75,689.22 L433.07,687.21 Z M435.57,690.47 a1.45,1.45 0 1,0 2.90,0 a1.45,1.45 0 1,0 -2.90,0 Z " fill="#000"/>
<path d="M528.65,566.35 L529.25,561.65 L526.35,561.65 L526.95,566.35 Z M526.35,561.65 a1.45,1.45 0 1,0 2.90,0 a1.45,1.45 0 1,0 -2.90,0 Z M526.95,566.35 L526.35,571.05 L529.25,571.05 L528.65,566.35 Z M526.35,571.05 a1.45,1.45 0 1,0 2.90,0 a1.45,1.45 0 1,0 -2.90,0 Z M528.22,567.09 L532.90,565.08 L531.45,562.57 L527.38,565.61 Z M530.72,563.82 a1.45,1.45 0 1,0 2.90,0 a1.45,1.45 0 1,0 -2.90,0 Z M528.22,565.61 L524.15,562.57 L522.70,565.08 L527.38,567.09 Z M521.98,563.82 a1.45,1.45 0 1,0 2.90,0 a1.45,1.45 0 1,0 -2.90,0 Z M527.38,565.61 L522.70,567.62 L524.15,570.13 L528.22,567.09 Z M521.98,568.87 a1.45,1.45 0 1,0 2.90,0 a1.45,1.45 0 1,0 -2.90,0 Z M527.38,567.09 L531.45,570.13 L532.90,567.62 L528.22,565.61 Z M530.72,568.87 a1.45,1.45 0 1,0 2.90,0 a1.45,1.45 0 1,0 -2.90,0 Z " fill="#000"/>
<path d="M242.25,891.55 L242.25,908.55 M237.90,895.85 L246.60,895.85" stroke="#000" stroke-width="2.20" stroke-linecap="round" fill="none"/>
<path d="M337.40,879.85 L337.40,896.85 M333.05,884.15 L341.75,884.15" stroke="#000" stroke-width="2.20" stroke-linecap="round" fill="none"/>
<path d="M424.41,877.95 L424.98,873.48 L422.22,873.48 L422.79,877.95 Z M422.22,873.48 a1.38,1.38 0 1,0 2.75,0 a1.38,1.38 0 1,0 -2.75,0 Z M422.79,877.95 L422.22,882.41 L424.98,882.41 L424.41,877.95 Z M422.22,882.41 a1.38,1.38 0 1,0 2.75,0 a1.38,1.38 0 1,0 -2.75,0 Z M424.00,878.65 L428.44,876.74 L427.07,874.36 L423.20,877.25 Z M426.38,875.55 a1.38,1.38 0 1,0 2.75,0 a1.38,1.38 0 1,0 -2.75,0 Z M424.00,877.25 L420.13,874.36 L418.76,876.74 L423.20,878.65 Z M418.07,875.55 a1.38,1.38 0 1,0 2.75,0 a1.38,1.38 0 1,0 -2.75,0 Z M423.20,877.25 L418.76,879.16 L420.13,881.54 L424.00,878.65 Z M418.07,880.35 a1.38,1.38 0 1,0 2.75,0 a1.38,1.38 0 1,0 -2.75,0 Z M423.20,878.65 L427.07,881.54 L428.44,879.16 L424.00,877.25 Z M426.38,880.35 a1.38,1.38 0 1,0 2.75,0 a1.38,1.38 0 1,0 -2.75,0 Z " fill="#000"/>
<circle cx="434.80" cy="883.15" r="1.35" fill="#000"/>
<path d="M434.90,883.25 L432.90,887.65" stroke="#000" stroke-width="1.60" stroke-linecap="round" fill="none"/>
<path d="M443.60,870.65 L443.60,887.65 M439.20,874.35 L448.00,874.35" stroke="#000" stroke-width="2.20" stroke-linecap="round" fill="none"/>
<path d="M518.71,866.00 L519.28,861.53 L516.52,861.53 L517.09,866.00 Z M516.52,861.53 a1.38,1.38 0 1,0 2.75,0 a1.38,1.38 0 1,0 -2.75,0 Z M517.09,866.00 L516.52,870.47 L519.28,870.47 L518.71,866.00 Z M516.52,870.47 a1.38,1.38 0 1,0 2.75,0 a1.38,1.38 0 1,0 -2.75,0 Z M518.30,866.70 L522.74,864.79 L521.37,862.41 L517.50,865.30 Z M520.68,863.60 a1.38,1.38 0 1,0 2.75,0 a1.38,1.38 0 1,0 -2.75,0 Z M518.30,865.30 L514.43,862.41 L513.06,864.79 L517.50,866.70 Z M512.37,863.60 a1.38,1.38 0 1,0 2.75,0 a1.38,1.38 0 1,0 -2.75,0 Z M517.50,865.30 L513.06,867.21 L514.43,869.59 L518.30,866.70 Z M512.37,868.40 a1.38,1.38 0 1,0 2.75,0 a1.38,1.38 0 1,0 -2.75,0 Z M517.50,866.70 L521.37,869.59 L522.74,867.21 L518.30,865.30 Z M520.68,868.40 a1.38,1.38 0 1,0 2.75,0 a1.38,1.38 0 1,0 -2.75,0 Z " fill="#000"/>
<circle cx="529.10" cy="871.20" r="1.35" fill="#000"/>
<path d="M529.20,871.30 L527.20,875.70" stroke="#000" stroke-width="1.60" stroke-linecap="round" fill="none"/>
<path d="M537.90,858.70 L537.90,875.70 M533.50,862.40 L542.30,862.40" stroke="#000" stroke-width="2.20" stroke-linecap="round" fill="none"/>
<text x="771.74" y="531.00" font-family="'Liberation Sans', sans-serif" font-weight="bold" class="b" font-size="42.15" textLength="30.85" lengthAdjust="spacingAndGlyphs">D</text>
<line x1="899.30" y1="927.60" x2="906.80" y2="927.60" stroke="#111" stroke-width="1.2"/>
<text x="873.90" y="935.40" font-family="'Liberation Sans', sans-serif" font-size="23.60" textLength="12.80" lengthAdjust="spacingAndGlyphs">0</text>
<line x1="899.30" y1="852.96" x2="906.80" y2="852.96" stroke="#111" stroke-width="1.2"/>
<text x="861.10" y="860.76" font-family="'Liberation Sans', sans-serif" font-size="23.60" textLength="25.59" lengthAdjust="spacingAndGlyphs">60</text>
<line x1="899.30" y1="778.32" x2="906.80" y2="778.32" stroke="#111" stroke-width="1.2"/>
<text x="848.31" y="786.12" font-family="'Liberation Sans', sans-serif" font-size="23.60" textLength="38.39" lengthAdjust="spacingAndGlyphs">120</text>
<line x1="899.30" y1="703.68" x2="906.80" y2="703.68" stroke="#111" stroke-width="1.2"/>
<text x="848.31" y="711.48" font-family="'Liberation Sans', sans-serif" font-size="23.60" textLength="38.39" lengthAdjust="spacingAndGlyphs">180</text>
<line x1="899.30" y1="629.04" x2="906.80" y2="629.04" stroke="#111" stroke-width="1.2"/>
<text x="848.31" y="636.84" font-family="'Liberation Sans', sans-serif" font-size="23.60" textLength="38.39" lengthAdjust="spacingAndGlyphs">240</text>
<line x1="899.30" y1="554.40" x2="906.80" y2="554.40" stroke="#111" stroke-width="1.2"/>
<text x="848.31" y="562.20" font-family="'Liberation Sans', sans-serif" font-size="23.60" textLength="38.39" lengthAdjust="spacingAndGlyphs">300</text>
<line x1="906.80" y1="927.60" x2="1387.10" y2="927.60" stroke="#999999" stroke-width="1.6"/>
<line x1="906.80" y1="927.60" x2="906.80" y2="934.10" stroke="#999999" stroke-width="1.2"/>
<line x1="1002.74" y1="927.60" x2="1002.74" y2="934.10" stroke="#999999" stroke-width="1.2"/>
<line x1="1098.68" y1="927.60" x2="1098.68" y2="934.10" stroke="#999999" stroke-width="1.2"/>
<line x1="1194.62" y1="927.60" x2="1194.62" y2="934.10" stroke="#999999" stroke-width="1.2"/>
<line x1="1290.56" y1="927.60" x2="1290.56" y2="934.10" stroke="#999999" stroke-width="1.2"/>
<line x1="1386.50" y1="927.60" x2="1386.50" y2="934.10" stroke="#999999" stroke-width="1.2"/>
<line x1="954.10" y1="927.60" x2="954.10" y2="934.10" stroke="#9a9a9a" stroke-width="1.1"/>
<line x1="1050.08" y1="927.60" x2="1050.08" y2="934.10" stroke="#9a9a9a" stroke-width="1.1"/>
<line x1="1146.05" y1="927.60" x2="1146.05" y2="934.10" stroke="#9a9a9a" stroke-width="1.1"/>
<line x1="1242.03" y1="927.60" x2="1242.03" y2="934.10" stroke="#9a9a9a" stroke-width="1.1"/>
<line x1="1338.00" y1="927.60" x2="1338.00" y2="934.10" stroke="#9a9a9a" stroke-width="1.1"/>
<line x1="906.80" y1="553.80" x2="906.80" y2="927.60" stroke="#111" stroke-width="1.3"/>
<line x1="906.80" y1="927.60" x2="906.80" y2="934.10" stroke="#999999" stroke-width="1.2"/>
<text x="947.72" y="962.00" font-family="'Liberation Sans', sans-serif" font-size="23.60" textLength="12.80" lengthAdjust="spacingAndGlyphs">5</text>
<text x="1036.85" y="962.00" font-family="'Liberation Sans', sans-serif" font-size="23.60" textLength="25.59" lengthAdjust="spacingAndGlyphs">10</text>
<text x="1133.16" y="962.00" font-family="'Liberation Sans', sans-serif" font-size="23.60" textLength="25.59" lengthAdjust="spacingAndGlyphs">25</text>
<text x="1229.22" y="962.00" font-family="'Liberation Sans', sans-serif" font-size="23.60" textLength="25.59" lengthAdjust="spacingAndGlyphs">50</text>
<text x="1325.10" y="962.00" font-family="'Liberation Sans', sans-serif" font-size="23.60" textLength="25.59" lengthAdjust="spacingAndGlyphs">75</text>
<text x="984.80" y="996.10" font-family="'Liberation Sans', sans-serif" font-size="22.67" textLength="79.96" lengthAdjust="spacingAndGlyphs">Dose of</text>
<text x="1071.41" y="996.10" font-family="'Liberation Sans', sans-serif" font-size="22.67" textLength="89.50" lengthAdjust="spacingAndGlyphs">L-GSNO</text>
<text x="1165.49" y="996.10" font-family="'Liberation Sans', sans-serif" font-size="22.67" textLength="140.04" lengthAdjust="spacingAndGlyphs">(nmol/kg, IA)</text>
<text class="b" transform="translate(825.80,918.60) rotate(-90)" x="-0.74" y="0" font-family="'Liberation Sans', sans-serif" font-weight="bold" font-size="26.16" textLength="335.28" lengthAdjust="spacingAndGlyphs"><tspan font-weight="normal">&#916;</tspan>Minute Ventilation (ml/min)</text>
<line x1="932.60" y1="571.90" x2="951.90" y2="571.90" stroke="#000" stroke-width="1.2"/>
<circle cx="942.10" cy="571.90" r="6.1" fill="#C0504D" stroke="#000" stroke-width="1.15"/>
<text x="961.18" y="580.80" font-family="'Liberation Sans', sans-serif" font-size="27.21" textLength="88.01" lengthAdjust="spacingAndGlyphs">Vehicle</text>
<line x1="932.60" y1="622.60" x2="951.90" y2="622.60" stroke="#000" stroke-width="1.2"/>
<circle cx="942.10" cy="622.60" r="6.1" fill="#4F81BD" stroke="#000" stroke-width="1.15"/>
<text x="960.53" y="630.60" font-family="'Liberation Sans', sans-serif" font-size="27.21" textLength="118.32" lengthAdjust="spacingAndGlyphs">Capsaicin</text>
<path d="M954.10,911.40 L1050.08,866.90 L1146.05,810.00 L1242.03,727.10 L1338.00,594.10" stroke="#000" stroke-width="1.35" fill="none" stroke-linejoin="round"/>
<path d="M954.10,921.30 L1050.08,917.60 L1146.05,914.10 L1242.03,895.00 L1338.00,881.90" stroke="#000" stroke-width="1.35" fill="none" stroke-linejoin="round"/>
<path d="M1050.08,858.50 L1050.08,877.00 M1047.78,858.50 L1052.38,858.50 M1047.78,877.00 L1052.38,877.00" stroke="#262626" stroke-width="1.35" fill="none"/>
<path d="M1146.05,797.40 L1146.05,824.60 M1143.75,797.40 L1148.35,797.40 M1143.75,824.60 L1148.35,824.60" stroke="#262626" stroke-width="1.35" fill="none"/>
<path d="M1242.03,707.40 L1242.03,749.00 M1239.73,707.40 L1244.33,707.40 M1239.73,749.00 L1244.33,749.00" stroke="#262626" stroke-width="1.35" fill="none"/>
<path d="M1338.00,561.90 L1338.00,627.60 M1335.70,561.90 L1340.30,561.90 M1335.70,627.60 L1340.30,627.60" stroke="#262626" stroke-width="1.35" fill="none"/>
<path d="M1242.03,888.00 L1242.03,902.50 M1239.73,888.00 L1244.33,888.00 M1239.73,902.50 L1244.33,902.50" stroke="#262626" stroke-width="1.35" fill="none"/>
<path d="M1338.00,874.90 L1338.00,891.40 M1335.70,874.90 L1340.30,874.90 M1335.70,891.40 L1340.30,891.40" stroke="#262626" stroke-width="1.35" fill="none"/>
<circle cx="954.10" cy="911.40" r="6.30" fill="#C0504D" stroke="#2a1010" stroke-width="1.2" filter="url(#soft)"/>
<circle cx="1050.08" cy="866.90" r="6.30" fill="#C0504D" stroke="#2a1010" stroke-width="1.2" filter="url(#soft)"/>
<circle cx="1146.05" cy="810.00" r="6.30" fill="#C0504D" stroke="#2a1010" stroke-width="1.2" filter="url(#soft)"/>
<circle cx="1242.03" cy="727.10" r="6.30" fill="#C0504D" stroke="#2a1010" stroke-width="1.2" filter="url(#soft)"/>
<circle cx="1338.00" cy="594.10" r="6.30" fill="#C0504D" stroke="#2a1010" stroke-width="1.2" filter="url(#soft)"/>
<circle cx="954.10" cy="921.30" r="6.30" fill="#4F81BD" stroke="#0f1c30" stroke-width="1.2" filter="url(#soft)"/>
<circle cx="1050.08" cy="917.60" r="6.30" fill="#4F81BD" stroke="#0f1c30" stroke-width="1.2" filter="url(#soft)"/>
<circle cx="1146.05" cy="914.10" r="6.30" fill="#4F81BD" stroke="#0f1c30" stroke-width="1.2" filter="url(#soft)"/>
<circle cx="1242.03" cy="895.00" r="6.30" fill="#4F81BD" stroke="#0f1c30" stroke-width="1.2" filter="url(#soft)"/>
<circle cx="1338.00" cy="881.90" r="6.30" fill="#4F81BD" stroke="#0f1c30" stroke-width="1.2" filter="url(#soft)"/>
<path d="M1051.33,846.90 L1051.93,842.20 L1049.03,842.20 L1049.63,846.90 Z M1049.03,842.20 a1.45,1.45 0 1,0 2.90,0 a1.45,1.45 0 1,0 -2.90,0 Z M1049.63,846.90 L1049.03,851.60 L1051.93,851.60 L1051.33,846.90 Z M1049.03,851.60 a1.45,1.45 0 1,0 2.90,0 a1.45,1.45 0 1,0 -2.90,0 Z M1050.90,847.64 L1055.57,845.63 L1054.12,843.12 L1050.05,846.16 Z M1053.40,844.38 a1.45,1.45 0 1,0 2.90,0 a1.45,1.45 0 1,0 -2.90,0 Z M1050.90,846.16 L1046.83,843.12 L1045.38,845.63 L1050.05,847.64 Z M1044.65,844.38 a1.45,1.45 0 1,0 2.90,0 a1.45,1.45 0 1,0 -2.90,0 Z M1050.05,846.16 L1045.38,848.17 L1046.83,850.68 L1050.90,847.64 Z M1044.65,849.42 a1.45,1.45 0 1,0 2.90,0 a1.45,1.45 0 1,0 -2.90,0 Z M1050.05,847.64 L1054.12,850.68 L1055.57,848.17 L1050.90,846.16 Z M1053.40,849.42 a1.45,1.45 0 1,0 2.90,0 a1.45,1.45 0 1,0 -2.90,0 Z " fill="#000"/>
<path d="M1147.30,783.65 L1147.90,778.95 L1145.00,778.95 L1145.60,783.65 Z M1145.00,778.95 a1.45,1.45 0 1,0 2.90,0 a1.45,1.45 0 1,0 -2.90,0 Z M1145.60,783.65 L1145.00,788.35 L1147.90,788.35 L1147.30,783.65 Z M1145.00,788.35 a1.45,1.45 0 1,0 2.90,0 a1.45,1.45 0 1,0 -2.90,0 Z M1146.88,784.39 L1151.55,782.38 L1150.10,779.87 L1146.03,782.91 Z M1149.37,781.12 a1.45,1.45 0 1,0 2.90,0 a1.45,1.45 0 1,0 -2.90,0 Z M1146.88,782.91 L1142.80,779.87 L1141.35,782.38 L1146.03,784.39 Z M1140.63,781.12 a1.45,1.45 0 1,0 2.90,0 a1.45,1.45 0 1,0 -2.90,0 Z M1146.03,782.91 L1141.35,784.92 L1142.80,787.43 L1146.88,784.39 Z M1140.63,786.17 a1.45,1.45 0 1,0 2.90,0 a1.45,1.45 0 1,0 -2.90,0 Z M1146.03,784.39 L1150.10,787.43 L1151.55,784.92 L1146.88,782.91 Z M1149.37,786.17 a1.45,1.45 0 1,0 2.90,0 a1.45,1.45 0 1,0 -2.90,0 Z " fill="#000"/>
<path d="M1243.28,696.05 L1243.88,691.35 L1240.98,691.35 L1241.58,696.05 Z M1240.98,691.35 a1.45,1.45 0 1,0 2.90,0 a1.45,1.45 0 1,0 -2.90,0 Z M1241.58,696.05 L1240.98,700.75 L1243.88,700.75 L1243.28,696.05 Z M1240.98,700.75 a1.45,1.45 0 1,0 2.90,0 a1.45,1.45 0 1,0 -2.90,0 Z M1242.85,696.79 L1247.52,694.78 L1246.07,692.27 L1242.00,695.31 Z M1245.35,693.52 a1.45,1.45 0 1,0 2.90,0 a1.45,1.45 0 1,0 -2.90,0 Z M1242.85,695.31 L1238.78,692.27 L1237.33,694.78 L1242.00,696.79 Z M1236.60,693.52 a1.45,1.45 0 1,0 2.90,0 a1.45,1.45 0 1,0 -2.90,0 Z M1242.00,695.31 L1237.33,697.32 L1238.78,699.83 L1242.85,696.79 Z M1236.60,698.57 a1.45,1.45 0 1,0 2.90,0 a1.45,1.45 0 1,0 -2.90,0 Z M1242.00,696.79 L1246.07,699.83 L1247.52,697.32 L1242.85,695.31 Z M1245.35,698.57 a1.45,1.45 0 1,0 2.90,0 a1.45,1.45 0 1,0 -2.90,0 Z " fill="#000"/>
<path d="M1339.25,549.35 L1339.85,544.65 L1336.95,544.65 L1337.55,549.35 Z M1336.95,544.65 a1.45,1.45 0 1,0 2.90,0 a1.45,1.45 0 1,0 -2.90,0 Z M1337.55,549.35 L1336.95,554.05 L1339.85,554.05 L1339.25,549.35 Z M1336.95,554.05 a1.45,1.45 0 1,0 2.90,0 a1.45,1.45 0 1,0 -2.90,0 Z M1338.83,550.09 L1343.50,548.08 L1342.05,545.57 L1337.98,548.61 Z M1341.32,546.82 a1.45,1.45 0 1,0 2.90,0 a1.45,1.45 0 1,0 -2.90,0 Z M1338.83,548.61 L1334.75,545.57 L1333.30,548.08 L1337.98,550.09 Z M1332.58,546.82 a1.45,1.45 0 1,0 2.90,0 a1.45,1.45 0 1,0 -2.90,0 Z M1337.98,548.61 L1333.30,550.62 L1334.75,553.13 L1338.83,550.09 Z M1332.58,551.87 a1.45,1.45 0 1,0 2.90,0 a1.45,1.45 0 1,0 -2.90,0 Z M1337.98,550.09 L1342.05,553.13 L1343.50,550.62 L1338.83,548.61 Z M1341.32,551.87 a1.45,1.45 0 1,0 2.90,0 a1.45,1.45 0 1,0 -2.90,0 Z " fill="#000"/>
<path d="M1050.38,885.80 L1050.38,902.80 M1046.02,890.10 L1054.73,890.10" stroke="#000" stroke-width="2.20" stroke-linecap="round" fill="none"/>
<path d="M1146.35,882.00 L1146.35,899.00 M1142.00,886.30 L1150.70,886.30" stroke="#000" stroke-width="2.20" stroke-linecap="round" fill="none"/>
<path d="M1233.41,869.20 L1233.98,864.73 L1231.22,864.73 L1231.79,869.20 Z M1231.22,864.73 a1.38,1.38 0 1,0 2.75,0 a1.38,1.38 0 1,0 -2.75,0 Z M1231.79,869.20 L1231.22,873.66 L1233.98,873.66 L1233.41,869.20 Z M1231.22,873.66 a1.38,1.38 0 1,0 2.75,0 a1.38,1.38 0 1,0 -2.75,0 Z M1233.00,869.90 L1237.44,867.99 L1236.07,865.61 L1232.20,868.50 Z M1235.38,866.80 a1.38,1.38 0 1,0 2.75,0 a1.38,1.38 0 1,0 -2.75,0 Z M1233.00,868.50 L1229.13,865.61 L1227.76,867.99 L1232.20,869.90 Z M1227.07,866.80 a1.38,1.38 0 1,0 2.75,0 a1.38,1.38 0 1,0 -2.75,0 Z M1232.20,868.50 L1227.76,870.41 L1229.13,872.79 L1233.00,869.90 Z M1227.07,871.60 a1.38,1.38 0 1,0 2.75,0 a1.38,1.38 0 1,0 -2.75,0 Z M1232.20,869.90 L1236.07,872.79 L1237.44,870.41 L1233.00,868.50 Z M1235.38,871.60 a1.38,1.38 0 1,0 2.75,0 a1.38,1.38 0 1,0 -2.75,0 Z " fill="#000"/>
<circle cx="1243.80" cy="874.40" r="1.35" fill="#000"/>
<path d="M1243.90,874.50 L1241.90,878.90" stroke="#000" stroke-width="1.60" stroke-linecap="round" fill="none"/>
<path d="M1252.60,861.90 L1252.60,878.90 M1248.20,865.60 L1257.00,865.60" stroke="#000" stroke-width="2.20" stroke-linecap="round" fill="none"/>
<path d="M1330.41,854.15 L1330.98,849.68 L1328.22,849.68 L1328.79,854.15 Z M1328.22,849.68 a1.38,1.38 0 1,0 2.75,0 a1.38,1.38 0 1,0 -2.75,0 Z M1328.79,854.15 L1328.22,858.62 L1330.98,858.62 L1330.41,854.15 Z M1328.22,858.62 a1.38,1.38 0 1,0 2.75,0 a1.38,1.38 0 1,0 -2.75,0 Z M1330.00,854.85 L1334.44,852.94 L1333.07,850.56 L1329.20,853.45 Z M1332.38,851.75 a1.38,1.38 0 1,0 2.75,0 a1.38,1.38 0 1,0 -2.75,0 Z M1330.00,853.45 L1326.13,850.56 L1324.76,852.94 L1329.20,854.85 Z M1324.07,851.75 a1.38,1.38 0 1,0 2.75,0 a1.38,1.38 0 1,0 -2.75,0 Z M1329.20,853.45 L1324.76,855.36 L1326.13,857.74 L1330.00,854.85 Z M1324.07,856.55 a1.38,1.38 0 1,0 2.75,0 a1.38,1.38 0 1,0 -2.75,0 Z M1329.20,854.85 L1333.07,857.74 L1334.44,855.36 L1330.00,853.45 Z M1332.38,856.55 a1.38,1.38 0 1,0 2.75,0 a1.38,1.38 0 1,0 -2.75,0 Z " fill="#000"/>
<circle cx="1340.80" cy="859.35" r="1.35" fill="#000"/>
<path d="M1340.90,859.45 L1338.90,863.85" stroke="#000" stroke-width="1.60" stroke-linecap="round" fill="none"/>
<path d="M1349.60,846.85 L1349.60,863.85 M1345.20,850.55 L1354.00,850.55" stroke="#000" stroke-width="2.20" stroke-linecap="round" fill="none"/>
<text x="3.99" y="1060.50" font-family="'Liberation Sans', sans-serif" font-weight="bold" class="b" font-size="42.15" textLength="28.06" lengthAdjust="spacingAndGlyphs">E</text>
<line x1="91.00" y1="1455.30" x2="98.50" y2="1455.30" stroke="#111" stroke-width="1.2"/>
<text x="66.30" y="1463.10" font-family="'Liberation Sans', sans-serif" font-size="23.60" textLength="12.80" lengthAdjust="spacingAndGlyphs">0</text>
<line x1="91.00" y1="1393.60" x2="98.50" y2="1393.60" stroke="#111" stroke-width="1.2"/>
<text x="53.50" y="1401.40" font-family="'Liberation Sans', sans-serif" font-size="23.60" textLength="25.59" lengthAdjust="spacingAndGlyphs">50</text>
<line x1="91.00" y1="1331.90" x2="98.50" y2="1331.90" stroke="#111" stroke-width="1.2"/>
<text x="40.71" y="1339.70" font-family="'Liberation Sans', sans-serif" font-size="23.60" textLength="38.39" lengthAdjust="spacingAndGlyphs">100</text>
<line x1="91.00" y1="1270.20" x2="98.50" y2="1270.20" stroke="#111" stroke-width="1.2"/>
<text x="40.71" y="1278.00" font-family="'Liberation Sans', sans-serif" font-size="23.60" textLength="38.39" lengthAdjust="spacingAndGlyphs">150</text>
<line x1="91.00" y1="1208.50" x2="98.50" y2="1208.50" stroke="#111" stroke-width="1.2"/>
<text x="40.71" y="1216.30" font-family="'Liberation Sans', sans-serif" font-size="23.60" textLength="38.39" lengthAdjust="spacingAndGlyphs">200</text>
<line x1="91.00" y1="1146.80" x2="98.50" y2="1146.80" stroke="#111" stroke-width="1.2"/>
<text x="40.71" y="1154.60" font-family="'Liberation Sans', sans-serif" font-size="23.60" textLength="38.39" lengthAdjust="spacingAndGlyphs">250</text>
<line x1="91.00" y1="1085.10" x2="98.50" y2="1085.10" stroke="#111" stroke-width="1.2"/>
<text x="40.71" y="1092.90" font-family="'Liberation Sans', sans-serif" font-size="23.60" textLength="38.39" lengthAdjust="spacingAndGlyphs">300</text>
<line x1="98.50" y1="1455.30" x2="574.30" y2="1455.30" stroke="#999999" stroke-width="1.6"/>
<line x1="98.50" y1="1455.30" x2="98.50" y2="1461.80" stroke="#999999" stroke-width="1.2"/>
<line x1="193.54" y1="1455.30" x2="193.54" y2="1461.80" stroke="#999999" stroke-width="1.2"/>
<line x1="288.58" y1="1455.30" x2="288.58" y2="1461.80" stroke="#999999" stroke-width="1.2"/>
<line x1="383.62" y1="1455.30" x2="383.62" y2="1461.80" stroke="#999999" stroke-width="1.2"/>
<line x1="478.66" y1="1455.30" x2="478.66" y2="1461.80" stroke="#999999" stroke-width="1.2"/>
<line x1="573.70" y1="1455.30" x2="573.70" y2="1461.80" stroke="#999999" stroke-width="1.2"/>
<line x1="145.70" y1="1455.30" x2="145.70" y2="1461.80" stroke="#9a9a9a" stroke-width="1.1"/>
<line x1="240.62" y1="1455.30" x2="240.62" y2="1461.80" stroke="#9a9a9a" stroke-width="1.1"/>
<line x1="335.55" y1="1455.30" x2="335.55" y2="1461.80" stroke="#9a9a9a" stroke-width="1.1"/>
<line x1="430.47" y1="1455.30" x2="430.47" y2="1461.80" stroke="#9a9a9a" stroke-width="1.1"/>
<line x1="525.40" y1="1455.30" x2="525.40" y2="1461.80" stroke="#9a9a9a" stroke-width="1.1"/>
<line x1="98.50" y1="1084.50" x2="98.50" y2="1455.30" stroke="#111" stroke-width="1.3"/>
<line x1="98.50" y1="1455.30" x2="98.50" y2="1461.80" stroke="#999999" stroke-width="1.2"/>
<text x="129.61" y="1489.70" font-family="'Liberation Sans', sans-serif" font-size="23.60" textLength="31.99" lengthAdjust="spacingAndGlyphs">2.5</text>
<text x="234.25" y="1489.70" font-family="'Liberation Sans', sans-serif" font-size="23.60" textLength="12.80" lengthAdjust="spacingAndGlyphs">5</text>
<text x="322.33" y="1489.70" font-family="'Liberation Sans', sans-serif" font-size="23.60" textLength="25.59" lengthAdjust="spacingAndGlyphs">10</text>
<text x="417.58" y="1489.70" font-family="'Liberation Sans', sans-serif" font-size="23.60" textLength="25.59" lengthAdjust="spacingAndGlyphs">25</text>
<text x="512.59" y="1489.70" font-family="'Liberation Sans', sans-serif" font-size="23.60" textLength="25.59" lengthAdjust="spacingAndGlyphs">50</text>
<text x="176.58" y="1522.90" font-family="'Liberation Sans', sans-serif" font-size="22.67" textLength="80.78" lengthAdjust="spacingAndGlyphs">Dose of</text>
<text x="262.89" y="1522.90" font-family="'Liberation Sans', sans-serif" font-size="22.67" textLength="83.06" lengthAdjust="spacingAndGlyphs">L-CSNO</text>
<text x="351.04" y="1522.90" font-family="'Liberation Sans', sans-serif" font-size="22.67" textLength="142.31" lengthAdjust="spacingAndGlyphs">(nmol/kg, IA)</text>
<text class="b" transform="translate(18.00,1446.80) rotate(-90)" x="-0.74" y="0" font-family="'Liberation Sans', sans-serif" font-weight="bold" font-size="26.16" textLength="332.67" lengthAdjust="spacingAndGlyphs"><tspan font-weight="normal">&#916;</tspan>Minute Ventilation (ml/min)</text>
<line x1="124.00" y1="1102.50" x2="143.30" y2="1102.50" stroke="#000" stroke-width="1.2"/>
<circle cx="133.50" cy="1102.50" r="6.1" fill="#C0504D" stroke="#000" stroke-width="1.15"/>
<text x="152.58" y="1111.00" font-family="'Liberation Sans', sans-serif" font-size="27.21" textLength="54.58" lengthAdjust="spacingAndGlyphs">VEH</text>
<line x1="124.00" y1="1153.10" x2="143.30" y2="1153.10" stroke="#000" stroke-width="1.2"/>
<circle cx="133.50" cy="1153.10" r="6.1" fill="#4F81BD" stroke="#000" stroke-width="1.15"/>
<text x="151.42" y="1161.20" font-family="'Liberation Sans', sans-serif" font-size="27.62" textLength="191.60" lengthAdjust="spacingAndGlyphs">L-SMC + L-SEC</text>
<path d="M145.70,1449.70 L240.62,1399.60 L335.55,1357.90 L430.47,1274.40 L525.40,1181.00" stroke="#000" stroke-width="1.35" fill="none" stroke-linejoin="round"/>
<path d="M145.70,1450.80 L240.62,1446.10 L335.55,1441.00 L430.47,1425.80 L525.40,1409.00" stroke="#000" stroke-width="1.35" fill="none" stroke-linejoin="round"/>
<path d="M335.55,1343.50 L335.55,1373.30 M333.25,1343.50 L337.85,1343.50 M333.25,1373.30 L337.85,1373.30" stroke="#262626" stroke-width="1.35" fill="none"/>
<path d="M430.47,1258.70 L430.47,1290.20 M428.17,1258.70 L432.77,1258.70 M428.17,1290.20 L432.77,1290.20" stroke="#262626" stroke-width="1.35" fill="none"/>
<path d="M525.40,1149.50 L525.40,1215.00 M523.10,1149.50 L527.70,1149.50 M523.10,1215.00 L527.70,1215.00" stroke="#262626" stroke-width="1.35" fill="none"/>
<circle cx="145.70" cy="1449.70" r="6.30" fill="#C0504D" stroke="#2a1010" stroke-width="1.2" filter="url(#soft)"/>
<circle cx="240.62" cy="1399.60" r="6.30" fill="#C0504D" stroke="#2a1010" stroke-width="1.2" filter="url(#soft)"/>
<circle cx="335.55" cy="1357.90" r="6.30" fill="#C0504D" stroke="#2a1010" stroke-width="1.2" filter="url(#soft)"/>
<circle cx="430.47" cy="1274.40" r="6.30" fill="#C0504D" stroke="#2a1010" stroke-width="1.2" filter="url(#soft)"/>
<circle cx="525.40" cy="1181.00" r="6.30" fill="#C0504D" stroke="#2a1010" stroke-width="1.2" filter="url(#soft)"/>
<circle cx="145.70" cy="1450.80" r="6.30" fill="#4F81BD" stroke="#0f1c30" stroke-width="1.2" filter="url(#soft)"/>
<circle cx="240.62" cy="1446.10" r="6.30" fill="#4F81BD" stroke="#0f1c30" stroke-width="1.2" filter="url(#soft)"/>
<circle cx="335.55" cy="1441.00" r="6.30" fill="#4F81BD" stroke="#0f1c30" stroke-width="1.2" filter="url(#soft)"/>
<circle cx="430.47" cy="1425.80" r="6.30" fill="#4F81BD" stroke="#0f1c30" stroke-width="1.2" filter="url(#soft)"/>
<circle cx="525.40" cy="1409.00" r="6.30" fill="#4F81BD" stroke="#0f1c30" stroke-width="1.2" filter="url(#soft)"/>
<path d="M241.88,1381.30 L242.47,1376.60 L239.58,1376.60 L240.18,1381.30 Z M239.58,1376.60 a1.45,1.45 0 1,0 2.90,0 a1.45,1.45 0 1,0 -2.90,0 Z M240.18,1381.30 L239.58,1386.00 L242.47,1386.00 L241.88,1381.30 Z M239.58,1386.00 a1.45,1.45 0 1,0 2.90,0 a1.45,1.45 0 1,0 -2.90,0 Z M241.45,1382.04 L246.12,1380.03 L244.67,1377.52 L240.60,1380.56 Z M243.95,1378.77 a1.45,1.45 0 1,0 2.90,0 a1.45,1.45 0 1,0 -2.90,0 Z M241.45,1380.56 L237.38,1377.52 L235.93,1380.03 L240.60,1382.04 Z M235.20,1378.77 a1.45,1.45 0 1,0 2.90,0 a1.45,1.45 0 1,0 -2.90,0 Z M240.60,1380.56 L235.93,1382.57 L237.38,1385.08 L241.45,1382.04 Z M235.20,1383.83 a1.45,1.45 0 1,0 2.90,0 a1.45,1.45 0 1,0 -2.90,0 Z M240.60,1382.04 L244.67,1385.08 L246.12,1382.57 L241.45,1380.56 Z M243.95,1383.83 a1.45,1.45 0 1,0 2.90,0 a1.45,1.45 0 1,0 -2.90,0 Z " fill="#000"/>
<path d="M336.80,1329.90 L337.40,1325.20 L334.50,1325.20 L335.10,1329.90 Z M334.50,1325.20 a1.45,1.45 0 1,0 2.90,0 a1.45,1.45 0 1,0 -2.90,0 Z M335.10,1329.90 L334.50,1334.60 L337.40,1334.60 L336.80,1329.90 Z M334.50,1334.60 a1.45,1.45 0 1,0 2.90,0 a1.45,1.45 0 1,0 -2.90,0 Z M336.37,1330.64 L341.05,1328.63 L339.60,1326.12 L335.52,1329.16 Z M338.87,1327.37 a1.45,1.45 0 1,0 2.90,0 a1.45,1.45 0 1,0 -2.90,0 Z M336.37,1329.16 L332.30,1326.12 L330.85,1328.63 L335.52,1330.64 Z M330.13,1327.37 a1.45,1.45 0 1,0 2.90,0 a1.45,1.45 0 1,0 -2.90,0 Z M335.52,1329.16 L330.85,1331.17 L332.30,1333.68 L336.37,1330.64 Z M330.13,1332.42 a1.45,1.45 0 1,0 2.90,0 a1.45,1.45 0 1,0 -2.90,0 Z M335.52,1330.64 L339.60,1333.68 L341.05,1331.17 L336.37,1329.16 Z M338.87,1332.42 a1.45,1.45 0 1,0 2.90,0 a1.45,1.45 0 1,0 -2.90,0 Z " fill="#000"/>
<path d="M431.72,1246.20 L432.32,1241.50 L429.42,1241.50 L430.02,1246.20 Z M429.42,1241.50 a1.45,1.45 0 1,0 2.90,0 a1.45,1.45 0 1,0 -2.90,0 Z M430.02,1246.20 L429.42,1250.90 L432.32,1250.90 L431.72,1246.20 Z M429.42,1250.90 a1.45,1.45 0 1,0 2.90,0 a1.45,1.45 0 1,0 -2.90,0 Z M431.30,1246.94 L435.97,1244.93 L434.52,1242.42 L430.45,1245.46 Z M433.80,1243.67 a1.45,1.45 0 1,0 2.90,0 a1.45,1.45 0 1,0 -2.90,0 Z M431.30,1245.46 L427.23,1242.42 L425.78,1244.93 L430.45,1246.94 Z M425.05,1243.67 a1.45,1.45 0 1,0 2.90,0 a1.45,1.45 0 1,0 -2.90,0 Z M430.45,1245.46 L425.78,1247.47 L427.23,1249.98 L431.30,1246.94 Z M425.05,1248.73 a1.45,1.45 0 1,0 2.90,0 a1.45,1.45 0 1,0 -2.90,0 Z M430.45,1246.94 L434.52,1249.98 L435.97,1247.47 L431.30,1245.46 Z M433.80,1248.73 a1.45,1.45 0 1,0 2.90,0 a1.45,1.45 0 1,0 -2.90,0 Z " fill="#000"/>
<path d="M526.65,1134.95 L527.25,1130.25 L524.35,1130.25 L524.95,1134.95 Z M524.35,1130.25 a1.45,1.45 0 1,0 2.90,0 a1.45,1.45 0 1,0 -2.90,0 Z M524.95,1134.95 L524.35,1139.65 L527.25,1139.65 L526.65,1134.95 Z M524.35,1139.65 a1.45,1.45 0 1,0 2.90,0 a1.45,1.45 0 1,0 -2.90,0 Z M526.22,1135.69 L530.90,1133.68 L529.45,1131.17 L525.38,1134.21 Z M528.72,1132.42 a1.45,1.45 0 1,0 2.90,0 a1.45,1.45 0 1,0 -2.90,0 Z M526.22,1134.21 L522.15,1131.17 L520.70,1133.68 L525.38,1135.69 Z M519.98,1132.42 a1.45,1.45 0 1,0 2.90,0 a1.45,1.45 0 1,0 -2.90,0 Z M525.38,1134.21 L520.70,1136.22 L522.15,1138.73 L526.22,1135.69 Z M519.98,1137.48 a1.45,1.45 0 1,0 2.90,0 a1.45,1.45 0 1,0 -2.90,0 Z M525.38,1135.69 L529.45,1138.73 L530.90,1136.22 L526.22,1134.21 Z M528.72,1137.48 a1.45,1.45 0 1,0 2.90,0 a1.45,1.45 0 1,0 -2.90,0 Z " fill="#000"/>
<path d="M240.93,1417.20 L240.93,1434.20 M236.58,1421.50 L245.28,1421.50" stroke="#000" stroke-width="2.20" stroke-linecap="round" fill="none"/>
<path d="M327.31,1416.50 L327.88,1412.04 L325.12,1412.04 L325.69,1416.50 Z M325.12,1412.04 a1.38,1.38 0 1,0 2.75,0 a1.38,1.38 0 1,0 -2.75,0 Z M325.69,1416.50 L325.12,1420.97 L327.88,1420.97 L327.31,1416.50 Z M325.12,1420.97 a1.38,1.38 0 1,0 2.75,0 a1.38,1.38 0 1,0 -2.75,0 Z M326.90,1417.20 L331.34,1415.29 L329.97,1412.91 L326.10,1415.80 Z M329.28,1414.10 a1.38,1.38 0 1,0 2.75,0 a1.38,1.38 0 1,0 -2.75,0 Z M326.90,1415.80 L323.03,1412.91 L321.66,1415.29 L326.10,1417.20 Z M320.97,1414.10 a1.38,1.38 0 1,0 2.75,0 a1.38,1.38 0 1,0 -2.75,0 Z M326.10,1415.80 L321.66,1417.71 L323.03,1420.09 L326.90,1417.20 Z M320.97,1418.90 a1.38,1.38 0 1,0 2.75,0 a1.38,1.38 0 1,0 -2.75,0 Z M326.10,1417.20 L329.97,1420.09 L331.34,1417.71 L326.90,1415.80 Z M329.28,1418.90 a1.38,1.38 0 1,0 2.75,0 a1.38,1.38 0 1,0 -2.75,0 Z " fill="#000"/>
<circle cx="337.70" cy="1421.70" r="1.35" fill="#000"/>
<path d="M337.80,1421.80 L335.80,1426.20" stroke="#000" stroke-width="1.60" stroke-linecap="round" fill="none"/>
<path d="M346.50,1409.20 L346.50,1426.20 M342.10,1412.90 L350.90,1412.90" stroke="#000" stroke-width="2.20" stroke-linecap="round" fill="none"/>
<path d="M422.61,1399.45 L423.18,1394.99 L420.42,1394.99 L420.99,1399.45 Z M420.42,1394.99 a1.38,1.38 0 1,0 2.75,0 a1.38,1.38 0 1,0 -2.75,0 Z M420.99,1399.45 L420.42,1403.92 L423.18,1403.92 L422.61,1399.45 Z M420.42,1403.92 a1.38,1.38 0 1,0 2.75,0 a1.38,1.38 0 1,0 -2.75,0 Z M422.20,1400.15 L426.64,1398.24 L425.27,1395.86 L421.40,1398.75 Z M424.58,1397.05 a1.38,1.38 0 1,0 2.75,0 a1.38,1.38 0 1,0 -2.75,0 Z M422.20,1398.75 L418.33,1395.86 L416.96,1398.24 L421.40,1400.15 Z M416.27,1397.05 a1.38,1.38 0 1,0 2.75,0 a1.38,1.38 0 1,0 -2.75,0 Z M421.40,1398.75 L416.96,1400.66 L418.33,1403.04 L422.20,1400.15 Z M416.27,1401.85 a1.38,1.38 0 1,0 2.75,0 a1.38,1.38 0 1,0 -2.75,0 Z M421.40,1400.15 L425.27,1403.04 L426.64,1400.66 L422.20,1398.75 Z M424.58,1401.85 a1.38,1.38 0 1,0 2.75,0 a1.38,1.38 0 1,0 -2.75,0 Z " fill="#000"/>
<circle cx="433.00" cy="1404.65" r="1.35" fill="#000"/>
<path d="M433.10,1404.75 L431.10,1409.15" stroke="#000" stroke-width="1.60" stroke-linecap="round" fill="none"/>
<path d="M441.80,1392.15 L441.80,1409.15 M437.40,1395.85 L446.20,1395.85" stroke="#000" stroke-width="2.20" stroke-linecap="round" fill="none"/>
<path d="M518.01,1382.25 L518.58,1377.79 L515.82,1377.79 L516.39,1382.25 Z M515.82,1377.79 a1.38,1.38 0 1,0 2.75,0 a1.38,1.38 0 1,0 -2.75,0 Z M516.39,1382.25 L515.82,1386.72 L518.58,1386.72 L518.01,1382.25 Z M515.82,1386.72 a1.38,1.38 0 1,0 2.75,0 a1.38,1.38 0 1,0 -2.75,0 Z M517.60,1382.95 L522.04,1381.04 L520.67,1378.66 L516.80,1381.55 Z M519.98,1379.85 a1.38,1.38 0 1,0 2.75,0 a1.38,1.38 0 1,0 -2.75,0 Z M517.60,1381.55 L513.73,1378.66 L512.36,1381.04 L516.80,1382.95 Z M511.67,1379.85 a1.38,1.38 0 1,0 2.75,0 a1.38,1.38 0 1,0 -2.75,0 Z M516.80,1381.55 L512.36,1383.46 L513.73,1385.84 L517.60,1382.95 Z M511.67,1384.65 a1.38,1.38 0 1,0 2.75,0 a1.38,1.38 0 1,0 -2.75,0 Z M516.80,1382.95 L520.67,1385.84 L522.04,1383.46 L517.60,1381.55 Z M519.98,1384.65 a1.38,1.38 0 1,0 2.75,0 a1.38,1.38 0 1,0 -2.75,0 Z " fill="#000"/>
<circle cx="528.40" cy="1387.45" r="1.35" fill="#000"/>
<path d="M528.50,1387.55 L526.50,1391.95" stroke="#000" stroke-width="1.60" stroke-linecap="round" fill="none"/>
<path d="M537.20,1374.95 L537.20,1391.95 M532.80,1378.65 L541.60,1378.65" stroke="#000" stroke-width="2.20" stroke-linecap="round" fill="none"/>
<text x="797.65" y="1060.30" font-family="'Liberation Sans', sans-serif" font-weight="bold" class="b" font-size="42.15" textLength="26.01" lengthAdjust="spacingAndGlyphs">F</text>
<line x1="900.90" y1="1460.00" x2="908.40" y2="1460.00" stroke="#111" stroke-width="1.2"/>
<text x="875.70" y="1467.80" font-family="'Liberation Sans', sans-serif" font-size="23.60" textLength="12.80" lengthAdjust="spacingAndGlyphs">0</text>
<line x1="900.90" y1="1397.57" x2="908.40" y2="1397.57" stroke="#111" stroke-width="1.2"/>
<text x="862.90" y="1405.37" font-family="'Liberation Sans', sans-serif" font-size="23.60" textLength="25.59" lengthAdjust="spacingAndGlyphs">50</text>
<line x1="900.90" y1="1335.13" x2="908.40" y2="1335.13" stroke="#111" stroke-width="1.2"/>
<text x="850.11" y="1342.93" font-family="'Liberation Sans', sans-serif" font-size="23.60" textLength="38.39" lengthAdjust="spacingAndGlyphs">100</text>
<line x1="900.90" y1="1272.70" x2="908.40" y2="1272.70" stroke="#111" stroke-width="1.2"/>
<text x="850.11" y="1280.50" font-family="'Liberation Sans', sans-serif" font-size="23.60" textLength="38.39" lengthAdjust="spacingAndGlyphs">150</text>
<line x1="900.90" y1="1210.27" x2="908.40" y2="1210.27" stroke="#111" stroke-width="1.2"/>
<text x="850.11" y="1218.07" font-family="'Liberation Sans', sans-serif" font-size="23.60" textLength="38.39" lengthAdjust="spacingAndGlyphs">200</text>
<line x1="900.90" y1="1147.83" x2="908.40" y2="1147.83" stroke="#111" stroke-width="1.2"/>
<text x="850.11" y="1155.63" font-family="'Liberation Sans', sans-serif" font-size="23.60" textLength="38.39" lengthAdjust="spacingAndGlyphs">250</text>
<line x1="900.90" y1="1085.40" x2="908.40" y2="1085.40" stroke="#111" stroke-width="1.2"/>
<text x="850.11" y="1093.20" font-family="'Liberation Sans', sans-serif" font-size="23.60" textLength="38.39" lengthAdjust="spacingAndGlyphs">300</text>
<line x1="908.40" y1="1460.00" x2="1390.60" y2="1460.00" stroke="#999999" stroke-width="1.6"/>
<line x1="908.40" y1="1460.00" x2="908.40" y2="1466.50" stroke="#999999" stroke-width="1.2"/>
<line x1="1004.72" y1="1460.00" x2="1004.72" y2="1466.50" stroke="#999999" stroke-width="1.2"/>
<line x1="1101.04" y1="1460.00" x2="1101.04" y2="1466.50" stroke="#999999" stroke-width="1.2"/>
<line x1="1197.36" y1="1460.00" x2="1197.36" y2="1466.50" stroke="#999999" stroke-width="1.2"/>
<line x1="1293.68" y1="1460.00" x2="1293.68" y2="1466.50" stroke="#999999" stroke-width="1.2"/>
<line x1="1390.00" y1="1460.00" x2="1390.00" y2="1466.50" stroke="#999999" stroke-width="1.2"/>
<line x1="956.90" y1="1460.00" x2="956.90" y2="1466.50" stroke="#9a9a9a" stroke-width="1.1"/>
<line x1="1052.95" y1="1460.00" x2="1052.95" y2="1466.50" stroke="#9a9a9a" stroke-width="1.1"/>
<line x1="1149.00" y1="1460.00" x2="1149.00" y2="1466.50" stroke="#9a9a9a" stroke-width="1.1"/>
<line x1="1245.05" y1="1460.00" x2="1245.05" y2="1466.50" stroke="#9a9a9a" stroke-width="1.1"/>
<line x1="1341.10" y1="1460.00" x2="1341.10" y2="1466.50" stroke="#9a9a9a" stroke-width="1.1"/>
<line x1="908.40" y1="1084.80" x2="908.40" y2="1460.00" stroke="#111" stroke-width="1.3"/>
<line x1="908.40" y1="1460.00" x2="908.40" y2="1466.50" stroke="#999999" stroke-width="1.2"/>
<text x="950.52" y="1494.40" font-family="'Liberation Sans', sans-serif" font-size="23.60" textLength="12.80" lengthAdjust="spacingAndGlyphs">5</text>
<text x="1039.73" y="1494.40" font-family="'Liberation Sans', sans-serif" font-size="23.60" textLength="25.59" lengthAdjust="spacingAndGlyphs">10</text>
<text x="1136.11" y="1494.40" font-family="'Liberation Sans', sans-serif" font-size="23.60" textLength="25.59" lengthAdjust="spacingAndGlyphs">25</text>
<text x="1232.24" y="1494.40" font-family="'Liberation Sans', sans-serif" font-size="23.60" textLength="25.59" lengthAdjust="spacingAndGlyphs">50</text>
<text x="1328.20" y="1494.40" font-family="'Liberation Sans', sans-serif" font-size="23.60" textLength="25.59" lengthAdjust="spacingAndGlyphs">75</text>
<text x="987.20" y="1528.50" font-family="'Liberation Sans', sans-serif" font-size="22.67" textLength="79.98" lengthAdjust="spacingAndGlyphs">Dose of</text>
<text x="1073.83" y="1528.50" font-family="'Liberation Sans', sans-serif" font-size="22.67" textLength="89.52" lengthAdjust="spacingAndGlyphs">L-GSNO</text>
<text x="1167.95" y="1528.50" font-family="'Liberation Sans', sans-serif" font-size="22.67" textLength="140.09" lengthAdjust="spacingAndGlyphs">(nmol/kg, IA)</text>
<text class="b" transform="translate(827.60,1450.90) rotate(-90)" x="-0.75" y="0" font-family="'Liberation Sans', sans-serif" font-weight="bold" font-size="26.16" textLength="336.49" lengthAdjust="spacingAndGlyphs"><tspan font-weight="normal">&#916;</tspan>Minute Ventilation (ml/min)</text>
<line x1="934.90" y1="1103.00" x2="954.20" y2="1103.00" stroke="#000" stroke-width="1.2"/>
<circle cx="944.40" cy="1103.00" r="6.1" fill="#C0504D" stroke="#000" stroke-width="1.15"/>
<text x="963.98" y="1112.30" font-family="'Liberation Sans', sans-serif" font-size="27.21" textLength="54.69" lengthAdjust="spacingAndGlyphs">VEH</text>
<line x1="934.90" y1="1154.10" x2="954.20" y2="1154.10" stroke="#000" stroke-width="1.2"/>
<circle cx="944.40" cy="1154.10" r="6.1" fill="#4F81BD" stroke="#000" stroke-width="1.15"/>
<text x="962.60" y="1162.40" font-family="'Liberation Sans', sans-serif" font-size="27.62" textLength="193.43" lengthAdjust="spacingAndGlyphs">L-SMC + L-SEC</text>
<path d="M956.90,1442.90 L1052.95,1402.90 L1149.00,1355.00 L1245.05,1276.00 L1341.10,1157.60" stroke="#000" stroke-width="1.35" fill="none" stroke-linejoin="round"/>
<path d="M956.90,1447.90 L1052.95,1405.60 L1149.00,1354.40 L1245.05,1264.10 L1341.10,1157.60" stroke="#000" stroke-width="1.35" fill="none" stroke-linejoin="round"/>
<path d="M1149.00,1345.00 L1149.00,1367.70 M1146.70,1345.00 L1151.30,1345.00 M1146.70,1367.70 L1151.30,1367.70" stroke="#262626" stroke-width="1.35" fill="none"/>
<path d="M1245.05,1265.00 L1245.05,1293.10 M1242.75,1265.00 L1247.35,1265.00 M1242.75,1293.10 L1247.35,1293.10" stroke="#262626" stroke-width="1.35" fill="none"/>
<path d="M1341.10,1130.30 L1341.10,1189.00 M1338.80,1130.30 L1343.40,1130.30 M1338.80,1189.00 L1343.40,1189.00" stroke="#262626" stroke-width="1.35" fill="none"/>
<path d="M1052.95,1398.00 L1052.95,1414.50 M1050.65,1398.00 L1055.25,1398.00 M1050.65,1414.50 L1055.25,1414.50" stroke="#262626" stroke-width="1.35" fill="none"/>
<path d="M1149.00,1342.00 L1149.00,1365.00 M1146.70,1342.00 L1151.30,1342.00 M1146.70,1365.00 L1151.30,1365.00" stroke="#262626" stroke-width="1.35" fill="none"/>
<path d="M1245.05,1247.30 L1245.05,1280.00 M1242.75,1247.30 L1247.35,1247.30 M1242.75,1280.00 L1247.35,1280.00" stroke="#262626" stroke-width="1.35" fill="none"/>
<path d="M1341.10,1128.00 L1341.10,1186.60 M1338.80,1128.00 L1343.40,1128.00 M1338.80,1186.60 L1343.40,1186.60" stroke="#262626" stroke-width="1.35" fill="none"/>
<circle cx="956.90" cy="1442.90" r="6.30" fill="#C0504D" stroke="#2a1010" stroke-width="1.2" filter="url(#soft)"/>
<circle cx="1052.95" cy="1402.90" r="6.30" fill="#C0504D" stroke="#2a1010" stroke-width="1.2" filter="url(#soft)"/>
<circle cx="1149.00" cy="1355.00" r="6.30" fill="#C0504D" stroke="#2a1010" stroke-width="1.2" filter="url(#soft)"/>
<circle cx="1245.05" cy="1276.00" r="6.30" fill="#C0504D" stroke="#2a1010" stroke-width="1.2" filter="url(#soft)"/>
<circle cx="1341.10" cy="1157.60" r="6.30" fill="#C0504D" stroke="#2a1010" stroke-width="1.2" filter="url(#soft)"/>
<circle cx="956.90" cy="1447.90" r="6.30" fill="#4F81BD" stroke="#0f1c30" stroke-width="1.2" filter="url(#soft)"/>
<circle cx="1052.95" cy="1405.60" r="6.30" fill="#4F81BD" stroke="#0f1c30" stroke-width="1.2" filter="url(#soft)"/>
<circle cx="1149.00" cy="1354.40" r="6.30" fill="#4F81BD" stroke="#0f1c30" stroke-width="1.2" filter="url(#soft)"/>
<circle cx="1245.05" cy="1264.10" r="6.30" fill="#4F81BD" stroke="#0f1c30" stroke-width="1.2" filter="url(#soft)"/>
<circle cx="1341.10" cy="1157.60" r="6.30" fill="#4F81BD" stroke="#0f1c30" stroke-width="1.2" filter="url(#soft)"/>
<path d="M1054.20,1383.80 L1054.80,1379.10 L1051.90,1379.10 L1052.50,1383.80 Z M1051.90,1379.10 a1.45,1.45 0 1,0 2.90,0 a1.45,1.45 0 1,0 -2.90,0 Z M1052.50,1383.80 L1051.90,1388.50 L1054.80,1388.50 L1054.20,1383.80 Z M1051.90,1388.50 a1.45,1.45 0 1,0 2.90,0 a1.45,1.45 0 1,0 -2.90,0 Z M1053.78,1384.54 L1058.45,1382.53 L1057.00,1380.02 L1052.93,1383.06 Z M1056.27,1381.27 a1.45,1.45 0 1,0 2.90,0 a1.45,1.45 0 1,0 -2.90,0 Z M1053.78,1383.06 L1049.70,1380.02 L1048.25,1382.53 L1052.93,1384.54 Z M1047.53,1381.27 a1.45,1.45 0 1,0 2.90,0 a1.45,1.45 0 1,0 -2.90,0 Z M1052.93,1383.06 L1048.25,1385.07 L1049.70,1387.58 L1053.78,1384.54 Z M1047.53,1386.33 a1.45,1.45 0 1,0 2.90,0 a1.45,1.45 0 1,0 -2.90,0 Z M1052.93,1384.54 L1057.00,1387.58 L1058.45,1385.07 L1053.78,1383.06 Z M1056.27,1386.33 a1.45,1.45 0 1,0 2.90,0 a1.45,1.45 0 1,0 -2.90,0 Z " fill="#000"/>
<path d="M1054.20,1429.75 L1054.80,1425.05 L1051.90,1425.05 L1052.50,1429.75 Z M1051.90,1425.05 a1.45,1.45 0 1,0 2.90,0 a1.45,1.45 0 1,0 -2.90,0 Z M1052.50,1429.75 L1051.90,1434.45 L1054.80,1434.45 L1054.20,1429.75 Z M1051.90,1434.45 a1.45,1.45 0 1,0 2.90,0 a1.45,1.45 0 1,0 -2.90,0 Z M1053.78,1430.49 L1058.45,1428.48 L1057.00,1425.97 L1052.93,1429.01 Z M1056.27,1427.22 a1.45,1.45 0 1,0 2.90,0 a1.45,1.45 0 1,0 -2.90,0 Z M1053.78,1429.01 L1049.70,1425.97 L1048.25,1428.48 L1052.93,1430.49 Z M1047.53,1427.22 a1.45,1.45 0 1,0 2.90,0 a1.45,1.45 0 1,0 -2.90,0 Z M1052.93,1429.01 L1048.25,1431.02 L1049.70,1433.53 L1053.78,1430.49 Z M1047.53,1432.28 a1.45,1.45 0 1,0 2.90,0 a1.45,1.45 0 1,0 -2.90,0 Z M1052.93,1430.49 L1057.00,1433.53 L1058.45,1431.02 L1053.78,1429.01 Z M1056.27,1432.28 a1.45,1.45 0 1,0 2.90,0 a1.45,1.45 0 1,0 -2.90,0 Z " fill="#000"/>
<path d="M1150.25,1329.20 L1150.85,1324.50 L1147.95,1324.50 L1148.55,1329.20 Z M1147.95,1324.50 a1.45,1.45 0 1,0 2.90,0 a1.45,1.45 0 1,0 -2.90,0 Z M1148.55,1329.20 L1147.95,1333.90 L1150.85,1333.90 L1150.25,1329.20 Z M1147.95,1333.90 a1.45,1.45 0 1,0 2.90,0 a1.45,1.45 0 1,0 -2.90,0 Z M1149.83,1329.94 L1154.50,1327.93 L1153.05,1325.42 L1148.98,1328.46 Z M1152.32,1326.67 a1.45,1.45 0 1,0 2.90,0 a1.45,1.45 0 1,0 -2.90,0 Z M1149.83,1328.46 L1145.75,1325.42 L1144.30,1327.93 L1148.98,1329.94 Z M1143.58,1326.67 a1.45,1.45 0 1,0 2.90,0 a1.45,1.45 0 1,0 -2.90,0 Z M1148.98,1328.46 L1144.30,1330.47 L1145.75,1332.98 L1149.83,1329.94 Z M1143.58,1331.73 a1.45,1.45 0 1,0 2.90,0 a1.45,1.45 0 1,0 -2.90,0 Z M1148.98,1329.94 L1153.05,1332.98 L1154.50,1330.47 L1149.83,1328.46 Z M1152.32,1331.73 a1.45,1.45 0 1,0 2.90,0 a1.45,1.45 0 1,0 -2.90,0 Z " fill="#000"/>
<path d="M1150.25,1384.30 L1150.85,1379.60 L1147.95,1379.60 L1148.55,1384.30 Z M1147.95,1379.60 a1.45,1.45 0 1,0 2.90,0 a1.45,1.45 0 1,0 -2.90,0 Z M1148.55,1384.30 L1147.95,1389.00 L1150.85,1389.00 L1150.25,1384.30 Z M1147.95,1389.00 a1.45,1.45 0 1,0 2.90,0 a1.45,1.45 0 1,0 -2.90,0 Z M1149.83,1385.04 L1154.50,1383.03 L1153.05,1380.52 L1148.98,1383.56 Z M1152.32,1381.77 a1.45,1.45 0 1,0 2.90,0 a1.45,1.45 0 1,0 -2.90,0 Z M1149.83,1383.56 L1145.75,1380.52 L1144.30,1383.03 L1148.98,1385.04 Z M1143.58,1381.77 a1.45,1.45 0 1,0 2.90,0 a1.45,1.45 0 1,0 -2.90,0 Z M1148.98,1383.56 L1144.30,1385.57 L1145.75,1388.08 L1149.83,1385.04 Z M1143.58,1386.83 a1.45,1.45 0 1,0 2.90,0 a1.45,1.45 0 1,0 -2.90,0 Z M1148.98,1385.04 L1153.05,1388.08 L1154.50,1385.57 L1149.83,1383.56 Z M1152.32,1386.83 a1.45,1.45 0 1,0 2.90,0 a1.45,1.45 0 1,0 -2.90,0 Z " fill="#000"/>
<path d="M1246.30,1234.80 L1246.90,1230.10 L1244.00,1230.10 L1244.60,1234.80 Z M1244.00,1230.10 a1.45,1.45 0 1,0 2.90,0 a1.45,1.45 0 1,0 -2.90,0 Z M1244.60,1234.80 L1244.00,1239.50 L1246.90,1239.50 L1246.30,1234.80 Z M1244.00,1239.50 a1.45,1.45 0 1,0 2.90,0 a1.45,1.45 0 1,0 -2.90,0 Z M1245.88,1235.54 L1250.55,1233.53 L1249.10,1231.02 L1245.03,1234.06 Z M1248.37,1232.27 a1.45,1.45 0 1,0 2.90,0 a1.45,1.45 0 1,0 -2.90,0 Z M1245.88,1234.06 L1241.80,1231.02 L1240.35,1233.53 L1245.03,1235.54 Z M1239.63,1232.27 a1.45,1.45 0 1,0 2.90,0 a1.45,1.45 0 1,0 -2.90,0 Z M1245.03,1234.06 L1240.35,1236.07 L1241.80,1238.58 L1245.88,1235.54 Z M1239.63,1237.33 a1.45,1.45 0 1,0 2.90,0 a1.45,1.45 0 1,0 -2.90,0 Z M1245.03,1235.54 L1249.10,1238.58 L1250.55,1236.07 L1245.88,1234.06 Z M1248.37,1237.33 a1.45,1.45 0 1,0 2.90,0 a1.45,1.45 0 1,0 -2.90,0 Z " fill="#000"/>
<path d="M1246.30,1308.80 L1246.90,1304.10 L1244.00,1304.10 L1244.60,1308.80 Z M1244.00,1304.10 a1.45,1.45 0 1,0 2.90,0 a1.45,1.45 0 1,0 -2.90,0 Z M1244.60,1308.80 L1244.00,1313.50 L1246.90,1313.50 L1246.30,1308.80 Z M1244.00,1313.50 a1.45,1.45 0 1,0 2.90,0 a1.45,1.45 0 1,0 -2.90,0 Z M1245.88,1309.54 L1250.55,1307.53 L1249.10,1305.02 L1245.03,1308.06 Z M1248.37,1306.27 a1.45,1.45 0 1,0 2.90,0 a1.45,1.45 0 1,0 -2.90,0 Z M1245.88,1308.06 L1241.80,1305.02 L1240.35,1307.53 L1245.03,1309.54 Z M1239.63,1306.27 a1.45,1.45 0 1,0 2.90,0 a1.45,1.45 0 1,0 -2.90,0 Z M1245.03,1308.06 L1240.35,1310.07 L1241.80,1312.58 L1245.88,1309.54 Z M1239.63,1311.33 a1.45,1.45 0 1,0 2.90,0 a1.45,1.45 0 1,0 -2.90,0 Z M1245.03,1309.54 L1249.10,1312.58 L1250.55,1310.07 L1245.88,1308.06 Z M1248.37,1311.33 a1.45,1.45 0 1,0 2.90,0 a1.45,1.45 0 1,0 -2.90,0 Z " fill="#000"/>
<path d="M1342.35,1116.05 L1342.95,1111.35 L1340.05,1111.35 L1340.65,1116.05 Z M1340.05,1111.35 a1.45,1.45 0 1,0 2.90,0 a1.45,1.45 0 1,0 -2.90,0 Z M1340.65,1116.05 L1340.05,1120.75 L1342.95,1120.75 L1342.35,1116.05 Z M1340.05,1120.75 a1.45,1.45 0 1,0 2.90,0 a1.45,1.45 0 1,0 -2.90,0 Z M1341.92,1116.79 L1346.60,1114.78 L1345.15,1112.27 L1341.08,1115.31 Z M1344.42,1113.52 a1.45,1.45 0 1,0 2.90,0 a1.45,1.45 0 1,0 -2.90,0 Z M1341.92,1115.31 L1337.85,1112.27 L1336.40,1114.78 L1341.08,1116.79 Z M1335.68,1113.52 a1.45,1.45 0 1,0 2.90,0 a1.45,1.45 0 1,0 -2.90,0 Z M1341.08,1115.31 L1336.40,1117.32 L1337.85,1119.83 L1341.92,1116.79 Z M1335.68,1118.58 a1.45,1.45 0 1,0 2.90,0 a1.45,1.45 0 1,0 -2.90,0 Z M1341.08,1116.79 L1345.15,1119.83 L1346.60,1117.32 L1341.92,1115.31 Z M1344.42,1118.58 a1.45,1.45 0 1,0 2.90,0 a1.45,1.45 0 1,0 -2.90,0 Z " fill="#000"/>
<path d="M1342.35,1204.90 L1342.95,1200.20 L1340.05,1200.20 L1340.65,1204.90 Z M1340.05,1200.20 a1.45,1.45 0 1,0 2.90,0 a1.45,1.45 0 1,0 -2.90,0 Z M1340.65,1204.90 L1340.05,1209.60 L1342.95,1209.60 L1342.35,1204.90 Z M1340.05,1209.60 a1.45,1.45 0 1,0 2.90,0 a1.45,1.45 0 1,0 -2.90,0 Z M1341.92,1205.64 L1346.60,1203.63 L1345.15,1201.12 L1341.08,1204.16 Z M1344.42,1202.37 a1.45,1.45 0 1,0 2.90,0 a1.45,1.45 0 1,0 -2.90,0 Z M1341.92,1204.16 L1337.85,1201.12 L1336.40,1203.63 L1341.08,1205.64 Z M1335.68,1202.37 a1.45,1.45 0 1,0 2.90,0 a1.45,1.45 0 1,0 -2.90,0 Z M1341.08,1204.16 L1336.40,1206.17 L1337.85,1208.68 L1341.92,1205.64 Z M1335.68,1207.42 a1.45,1.45 0 1,0 2.90,0 a1.45,1.45 0 1,0 -2.90,0 Z M1341.08,1205.64 L1345.15,1208.68 L1346.60,1206.17 L1341.92,1204.16 Z M1344.42,1207.42 a1.45,1.45 0 1,0 2.90,0 a1.45,1.45 0 1,0 -2.90,0 Z " fill="#000"/>
</svg>
</body></html>
